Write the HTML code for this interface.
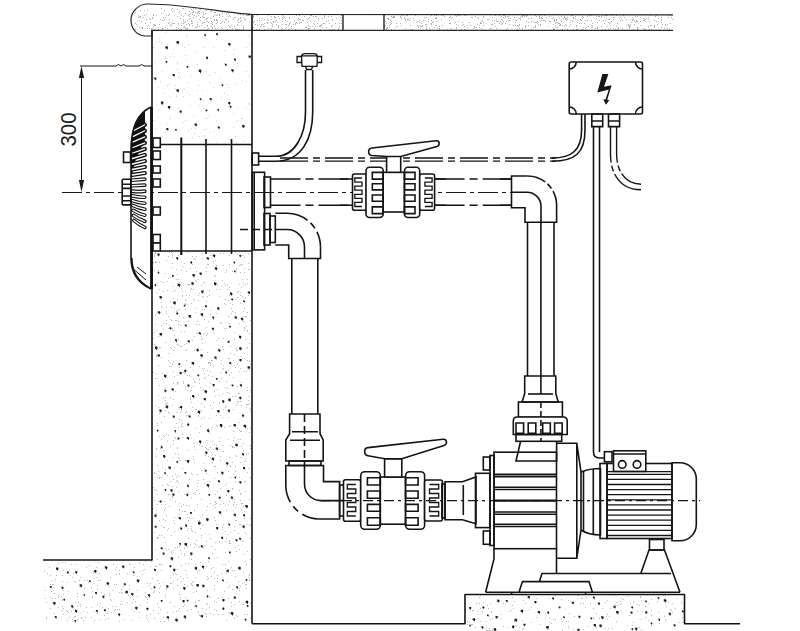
<!DOCTYPE html>
<html><head><meta charset="utf-8"><style>
html,body{margin:0;padding:0;background:#fff;width:800px;height:631px;overflow:hidden}
svg{display:block}
text{font-family:"Liberation Sans",sans-serif}
</style></head><body>
<svg width="800" height="631" viewBox="0 0 800 631">
<g fill="#acb2b8" clip-path="url(#cop)" shape-rendering="crispEdges">
<path d="M517 29h1v1h-1zM144 10h1v1h-1zM637 29h1v1h-1zM214 15h1v1h-1zM415 15h1v1h-1zM273 9h1v1h-1zM179 11h1v1h-1zM183 21h1v1h-1zM509 13h1v1h-1zM560 24h1v1h-1zM318 18h1v1h-1zM235 28h1v1h-1zM436 9h1v1h-1zM216 23h1v1h-1zM341 23h1v1h-1zM257 25h1v1h-1zM566 10h1v1h-1zM449 12h1v1h-1zM515 25h1v1h-1zM560 13h1v1h-1zM184 22h1v1h-1zM438 11h1v1h-1zM237 20h1v1h-1zM192 21h1v1h-1zM263 13h1v1h-1zM524 8h1v1h-1zM524 12h1v1h-1zM290 22h1v1h-1zM506 21h1v1h-1zM620 12h1v1h-1zM301 22h1v1h-1zM274 11h1v1h-1zM255 24h1v1h-1zM579 23h1v1h-1zM650 25h1v1h-1zM300 14h1v1h-1zM522 9h1v1h-1zM462 9h1v1h-1zM160 19h1v1h-1zM215 28h1v1h-1zM606 18h1v1h-1zM240 10h1v1h-1zM407 19h1v1h-1zM329 23h1v1h-1zM419 25h1v1h-1zM191 9h1v1h-1zM342 18h1v1h-1zM270 22h1v1h-1zM253 15h1v1h-1zM391 23h1v1h-1zM549 16h1v1h-1zM637 21h1v1h-1zM190 18h1v1h-1zM477 14h1v1h-1zM154 29h1v1h-1zM624 10h1v1h-1zM385 21h1v1h-1zM295 9h1v1h-1zM538 24h1v1h-1zM369 9h1v1h-1zM346 10h1v1h-1zM653 9h1v1h-1zM289 24h1v1h-1zM206 10h1v1h-1zM172 11h1v1h-1zM420 26h1v1h-1zM225 11h1v1h-1zM546 17h1v1h-1zM316 10h1v1h-1zM264 29h1v1h-1zM197 13h1v1h-1zM533 27h1v1h-1zM621 18h1v1h-1zM649 21h1v1h-1zM289 18h1v1h-1zM519 24h1v1h-1zM203 12h1v1h-1zM650 10h1v1h-1zM572 15h1v1h-1zM267 13h1v1h-1zM386 29h1v1h-1zM214 26h1v1h-1zM307 11h1v1h-1zM535 15h1v1h-1zM235 17h1v1h-1zM576 26h1v1h-1zM443 8h1v1h-1zM545 21h1v1h-1zM618 28h1v1h-1zM310 26h1v1h-1zM575 13h1v1h-1zM331 16h1v1h-1zM324 16h1v1h-1zM193 12h1v1h-1zM624 17h1v1h-1zM476 27h1v1h-1zM541 13h1v1h-1zM629 25h1v1h-1zM667 24h1v1h-1zM540 25h1v1h-1zM270 22h1v1h-1zM339 26h1v1h-1zM206 19h1v1h-1zM315 26h1v1h-1zM320 26h1v1h-1zM591 27h1v1h-1zM208 28h1v1h-1zM535 22h1v1h-1zM485 9h1v1h-1zM603 20h1v1h-1zM555 25h1v1h-1zM602 12h1v1h-1zM317 13h1v1h-1zM188 15h1v1h-1zM148 25h1v1h-1zM256 9h1v1h-1zM170 24h1v1h-1zM240 18h1v1h-1zM648 14h1v1h-1zM474 27h1v1h-1zM387 27h1v1h-1zM529 14h1v1h-1zM605 20h1v1h-1zM191 20h1v1h-1zM580 19h1v1h-1zM394 17h1v1h-1zM608 22h1v1h-1zM246 15h1v1h-1zM329 29h1v1h-1zM509 10h1v1h-1zM626 8h1v1h-1zM452 17h1v1h-1zM520 17h1v1h-1zM183 19h1v1h-1zM576 25h1v1h-1zM326 12h1v1h-1zM535 25h1v1h-1zM252 27h1v1h-1zM668 17h1v1h-1zM339 23h1v1h-1zM635 12h1v1h-1zM296 15h1v1h-1zM528 12h1v1h-1zM428 19h1v1h-1zM494 11h1v1h-1zM649 29h1v1h-1zM436 25h1v1h-1zM232 28h1v1h-1zM431 24h1v1h-1zM602 15h1v1h-1zM632 12h1v1h-1zM146 19h1v1h-1zM618 27h1v1h-1zM648 19h1v1h-1zM636 20h1v1h-1zM211 21h1v1h-1zM567 17h1v1h-1zM458 13h1v1h-1zM282 17h1v1h-1zM410 18h1v1h-1zM183 8h1v1h-1zM317 23h1v1h-1zM537 13h1v1h-1zM271 19h1v1h-1zM228 21h1v1h-1zM621 12h1v1h-1zM449 23h1v1h-1zM537 23h1v1h-1zM517 13h1v1h-1zM585 28h1v1h-1zM162 28h1v1h-1zM372 9h1v1h-1zM171 25h1v1h-1zM499 11h1v1h-1zM671 15h1v1h-1zM547 13h1v1h-1zM241 11h1v1h-1zM297 11h1v1h-1zM251 9h1v1h-1zM238 14h1v1h-1zM405 12h1v1h-1zM392 17h1v1h-1zM658 18h1v1h-1zM643 18h1v1h-1zM240 21h1v1h-1zM211 11h1v1h-1zM173 23h1v1h-1zM655 16h1v1h-1zM324 17h1v1h-1zM323 23h1v1h-1zM345 11h1v1h-1zM599 20h1v1h-1zM137 26h1v1h-1zM526 15h1v1h-1zM473 28h1v1h-1zM294 20h1v1h-1zM491 24h1v1h-1zM645 11h1v1h-1zM331 26h1v1h-1zM560 20h1v1h-1zM499 15h1v1h-1zM643 20h1v1h-1zM350 12h1v1h-1zM196 27h1v1h-1zM565 8h1v1h-1zM308 18h1v1h-1zM401 15h1v1h-1zM616 15h1v1h-1zM420 28h1v1h-1zM478 18h1v1h-1zM313 16h1v1h-1zM462 25h1v1h-1zM274 16h1v1h-1zM342 15h1v1h-1zM626 19h1v1h-1zM282 15h1v1h-1zM576 11h1v1h-1zM505 8h1v1h-1zM238 9h1v1h-1zM568 11h1v1h-1zM256 9h1v1h-1zM276 24h1v1h-1zM522 28h1v1h-1zM644 20h1v1h-1zM630 9h1v1h-1zM632 17h1v1h-1zM237 24h1v1h-1zM596 16h1v1h-1zM184 27h1v1h-1zM540 21h1v1h-1zM660 8h1v1h-1zM164 10h1v1h-1zM145 23h1v1h-1zM473 10h1v1h-1zM221 11h1v1h-1zM462 22h1v1h-1zM656 15h1v1h-1zM661 17h1v1h-1zM344 13h1v1h-1zM259 29h1v1h-1zM670 23h1v1h-1zM228 11h1v1h-1zM216 15h1v1h-1zM531 9h1v1h-1zM419 22h1v1h-1zM152 17h1v1h-1zM560 20h1v1h-1zM457 15h1v1h-1zM597 28h1v1h-1zM436 11h1v1h-1zM228 16h1v1h-1zM506 8h1v1h-1zM566 25h1v1h-1zM411 8h1v1h-1zM564 17h1v1h-1zM494 20h1v1h-1zM526 16h1v1h-1zM651 29h1v1h-1zM634 21h1v1h-1zM304 16h1v1h-1zM278 27h1v1h-1zM560 25h1v1h-1zM576 29h1v1h-1zM504 15h1v1h-1zM542 13h1v1h-1zM463 11h1v1h-1zM596 18h1v1h-1zM282 28h1v1h-1zM178 28h1v1h-1zM541 11h1v1h-1zM544 20h1v1h-1zM622 20h1v1h-1zM181 25h1v1h-1zM189 14h1v1h-1zM195 27h1v1h-1zM272 24h1v1h-1zM483 10h1v1h-1zM400 23h1v1h-1zM249 22h1v1h-1zM283 16h1v1h-1zM629 28h1v1h-1zM671 17h1v1h-1zM442 25h1v1h-1zM542 18h1v1h-1zM599 16h1v1h-1zM646 18h1v1h-1zM197 24h1v1h-1zM212 22h1v1h-1zM162 29h1v1h-1zM425 24h1v1h-1zM204 22h1v1h-1zM336 13h1v1h-1zM573 8h1v1h-1zM391 9h1v1h-1zM592 27h1v1h-1zM152 18h1v1h-1zM386 23h1v1h-1zM527 15h1v1h-1zM636 12h1v1h-1zM207 25h1v1h-1zM198 12h1v1h-1zM403 15h1v1h-1zM222 28h1v1h-1zM389 25h1v1h-1zM268 28h1v1h-1zM253 27h1v1h-1zM464 29h1v1h-1zM549 21h1v1h-1zM421 26h1v1h-1zM373 10h1v1h-1zM626 25h1v1h-1zM501 24h1v1h-1zM259 18h1v1h-1zM577 29h1v1h-1zM631 11h1v1h-1zM502 20h1v1h-1zM352 11h1v1h-1zM207 18h1v1h-1zM399 13h1v1h-1zM332 20h1v1h-1zM544 20h1v1h-1zM221 27h1v1h-1zM332 29h1v1h-1zM663 11h1v1h-1zM447 29h1v1h-1zM341 20h1v1h-1zM303 8h1v1h-1zM244 10h1v1h-1zM287 21h1v1h-1zM437 28h1v1h-1zM503 15h1v1h-1zM645 21h1v1h-1zM426 26h1v1h-1zM495 15h1v1h-1zM459 14h1v1h-1zM656 13h1v1h-1zM658 9h1v1h-1zM139 20h1v1h-1zM244 19h1v1h-1zM197 26h1v1h-1zM494 23h1v1h-1zM633 29h1v1h-1zM499 23h1v1h-1zM134 9h1v1h-1zM302 20h1v1h-1zM138 17h1v1h-1zM620 20h1v1h-1zM578 8h1v1h-1zM243 11h1v1h-1zM582 10h1v1h-1zM636 13h1v1h-1zM608 19h1v1h-1zM308 29h1v1h-1zM170 26h1v1h-1zM662 10h1v1h-1zM536 13h1v1h-1zM213 16h1v1h-1zM490 28h1v1h-1zM669 29h1v1h-1zM469 22h1v1h-1zM220 23h1v1h-1zM431 15h1v1h-1zM619 13h1v1h-1zM210 11h1v1h-1zM214 20h1v1h-1zM565 11h1v1h-1zM405 20h1v1h-1zM436 17h1v1h-1zM426 8h1v1h-1zM165 17h1v1h-1zM261 24h1v1h-1zM264 26h1v1h-1zM264 10h1v1h-1zM391 16h1v1h-1zM314 24h1v1h-1zM253 22h1v1h-1zM583 17h1v1h-1zM405 28h1v1h-1zM459 11h1v1h-1zM171 9h1v1h-1zM312 9h1v1h-1zM483 17h1v1h-1zM300 19h1v1h-1zM638 13h1v1h-1zM217 14h1v1h-1zM308 28h1v1h-1zM514 17h1v1h-1zM223 8h1v1h-1zM199 26h1v1h-1zM483 11h1v1h-1zM470 9h1v1h-1zM407 15h1v1h-1zM189 24h1v1h-1zM520 19h1v1h-1zM224 22h1v1h-1zM183 27h1v1h-1zM135 12h1v1h-1zM348 12h1v1h-1zM181 23h1v1h-1zM669 15h1v1h-1zM277 22h1v1h-1zM253 16h1v1h-1zM505 17h1v1h-1zM217 9h1v1h-1zM426 29h1v1h-1zM629 10h1v1h-1zM404 18h1v1h-1zM238 22h1v1h-1zM401 25h1v1h-1zM291 28h1v1h-1zM573 18h1v1h-1zM210 18h1v1h-1zM202 23h1v1h-1zM509 20h1v1h-1zM660 8h1v1h-1zM519 25h1v1h-1zM194 15h1v1h-1zM162 20h1v1h-1zM523 15h1v1h-1zM508 16h1v1h-1zM517 14h1v1h-1zM661 17h1v1h-1zM135 10h1v1h-1zM525 27h1v1h-1zM477 11h1v1h-1zM604 23h1v1h-1zM196 16h1v1h-1zM495 8h1v1h-1zM156 15h1v1h-1zM605 29h1v1h-1zM305 27h1v1h-1zM557 27h1v1h-1zM451 29h1v1h-1zM481 28h1v1h-1zM438 12h1v1h-1zM413 18h1v1h-1zM315 16h1v1h-1zM409 20h1v1h-1zM253 14h1v1h-1zM405 19h1v1h-1zM233 19h1v1h-1zM282 24h1v1h-1zM513 25h1v1h-1zM412 13h1v1h-1zM632 19h1v1h-1zM336 14h1v1h-1zM575 18h1v1h-1zM528 12h1v1h-1zM299 15h1v1h-1zM540 24h1v1h-1zM245 13h1v1h-1zM556 22h1v1h-1zM498 21h1v1h-1zM507 14h1v1h-1zM166 15h1v1h-1zM151 29h1v1h-1zM416 22h1v1h-1zM654 25h1v1h-1zM257 15h1v1h-1zM192 25h1v1h-1zM531 18h1v1h-1zM333 13h1v1h-1zM396 23h1v1h-1zM616 26h1v1h-1zM601 17h1v1h-1zM659 12h1v1h-1zM219 14h1v1h-1zM630 26h1v1h-1zM312 26h1v1h-1zM614 17h1v1h-1zM237 25h1v1h-1zM335 10h1v1h-1zM620 17h1v1h-1zM271 8h1v1h-1zM139 16h1v1h-1zM544 15h1v1h-1zM500 21h1v1h-1zM235 8h1v1h-1zM497 21h1v1h-1zM292 12h1v1h-1zM595 28h1v1h-1zM259 20h1v1h-1zM443 15h1v1h-1zM153 15h1v1h-1zM481 21h1v1h-1zM408 10h1v1h-1zM248 14h1v1h-1zM620 10h1v1h-1zM665 13h1v1h-1zM595 13h1v1h-1zM450 16h1v1h-1zM154 25h1v1h-1zM570 13h1v1h-1zM552 18h1v1h-1zM665 9h1v1h-1zM338 13h1v1h-1zM470 25h1v1h-1zM587 20h1v1h-1zM342 25h1v1h-1zM190 13h1v1h-1zM539 17h1v1h-1zM669 10h1v1h-1zM382 12h1v1h-1zM135 10h1v1h-1zM183 16h1v1h-1zM289 23h1v1h-1zM412 29h1v1h-1zM225 19h1v1h-1zM400 16h1v1h-1zM598 12h1v1h-1zM607 15h1v1h-1zM314 21h1v1h-1zM437 14h1v1h-1zM179 29h1v1h-1zM333 10h1v1h-1zM487 19h1v1h-1zM310 15h1v1h-1zM589 15h1v1h-1zM328 16h1v1h-1zM221 22h1v1h-1zM492 17h1v1h-1zM352 13h1v1h-1zM559 18h1v1h-1zM582 16h1v1h-1zM529 8h1v1h-1zM252 29h1v1h-1zM501 22h1v1h-1zM401 18h1v1h-1zM240 11h1v1h-1zM481 23h1v1h-1zM273 22h1v1h-1zM207 21h1v1h-1zM226 19h1v1h-1zM303 20h1v1h-1zM206 18h1v1h-1zM466 10h1v1h-1zM300 22h1v1h-1zM428 21h1v1h-1zM554 20h1v1h-1zM253 17h1v1h-1zM581 20h1v1h-1zM539 16h1v1h-1zM577 22h1v1h-1zM191 21h1v1h-1zM151 28h1v1h-1zM657 24h1v1h-1zM278 26h1v1h-1zM229 26h1v1h-1zM414 8h1v1h-1zM613 17h1v1h-1zM581 23h1v1h-1zM421 26h1v1h-1zM243 27h1v1h-1zM316 8h1v1h-1zM315 9h1v1h-1zM172 21h1v1h-1zM199 11h1v1h-1zM291 14h1v1h-1zM629 27h1v1h-1zM602 29h1v1h-1zM285 28h1v1h-1zM570 24h1v1h-1zM256 10h1v1h-1zM632 20h1v1h-1zM464 26h1v1h-1zM211 23h1v1h-1zM384 25h1v1h-1zM379 12h1v1h-1zM649 14h1v1h-1zM535 26h1v1h-1zM267 23h1v1h-1zM347 12h1v1h-1zM251 28h1v1h-1zM332 19h1v1h-1zM404 8h1v1h-1zM540 24h1v1h-1zM606 15h1v1h-1zM247 15h1v1h-1zM528 22h1v1h-1zM217 28h1v1h-1zM388 19h1v1h-1zM558 12h1v1h-1zM523 15h1v1h-1zM571 10h1v1h-1zM282 21h1v1h-1zM394 16h1v1h-1zM445 12h1v1h-1zM369 8h1v1h-1zM564 13h1v1h-1zM581 20h1v1h-1zM458 21h1v1h-1zM201 25h1v1h-1zM291 26h1v1h-1zM557 22h1v1h-1zM573 17h1v1h-1zM496 28h1v1h-1zM235 10h1v1h-1zM214 12h1v1h-1zM601 16h1v1h-1zM214 12h1v1h-1zM445 12h1v1h-1zM390 19h1v1h-1zM585 8h1v1h-1zM635 12h1v1h-1zM154 24h1v1h-1zM441 19h1v1h-1zM251 25h1v1h-1zM299 23h1v1h-1zM257 20h1v1h-1zM483 16h1v1h-1zM392 9h1v1h-1zM480 23h1v1h-1zM216 20h1v1h-1zM529 10h1v1h-1zM586 27h1v1h-1zM161 13h1v1h-1zM179 13h1v1h-1zM180 18h1v1h-1zM268 14h1v1h-1zM558 23h1v1h-1zM195 12h1v1h-1zM138 15h1v1h-1zM192 23h1v1h-1zM554 29h1v1h-1zM246 8h1v1h-1zM541 17h1v1h-1zM635 16h1v1h-1zM302 9h1v1h-1zM644 19h1v1h-1zM548 26h1v1h-1zM390 11h1v1h-1zM435 18h1v1h-1zM443 13h1v1h-1zM434 27h1v1h-1zM177 16h1v1h-1zM608 29h1v1h-1zM141 21h1v1h-1zM474 26h1v1h-1zM387 10h1v1h-1zM295 23h1v1h-1zM526 12h1v1h-1zM480 22h1v1h-1zM488 8h1v1h-1zM455 15h1v1h-1zM203 22h1v1h-1zM288 25h1v1h-1zM298 20h1v1h-1zM569 10h1v1h-1zM528 9h1v1h-1zM638 8h1v1h-1zM524 16h1v1h-1zM230 16h1v1h-1zM404 17h1v1h-1zM199 19h1v1h-1zM295 29h1v1h-1zM340 17h1v1h-1zM256 29h1v1h-1zM307 22h1v1h-1zM582 16h1v1h-1zM541 14h1v1h-1zM193 8h1v1h-1zM243 17h1v1h-1zM545 14h1v1h-1zM216 19h1v1h-1zM617 13h1v1h-1zM436 17h1v1h-1zM152 17h1v1h-1zM627 14h1v1h-1zM449 23h1v1h-1zM167 28h1v1h-1zM192 14h1v1h-1zM519 8h1v1h-1zM336 10h1v1h-1zM389 8h1v1h-1zM215 12h1v1h-1zM177 9h1v1h-1zM238 19h1v1h-1zM207 26h1v1h-1zM358 13h1v1h-1zM263 26h1v1h-1zM159 24h1v1h-1zM186 28h1v1h-1zM599 10h1v1h-1zM168 23h1v1h-1zM450 23h1v1h-1zM283 18h1v1h-1zM234 17h1v1h-1zM285 20h1v1h-1zM295 14h1v1h-1zM480 9h1v1h-1zM565 18h1v1h-1zM257 10h1v1h-1zM408 19h1v1h-1zM521 16h1v1h-1zM281 29h1v1h-1zM615 29h1v1h-1zM642 13h1v1h-1zM572 21h1v1h-1zM243 29h1v1h-1zM483 25h1v1h-1zM434 9h1v1h-1zM599 11h1v1h-1zM273 21h1v1h-1zM238 18h1v1h-1zM518 10h1v1h-1zM490 10h1v1h-1zM390 22h1v1h-1zM504 8h1v1h-1zM237 29h1v1h-1zM335 23h1v1h-1zM533 22h1v1h-1zM411 12h1v1h-1zM645 29h1v1h-1zM553 29h1v1h-1zM384 26h1v1h-1zM263 24h1v1h-1zM519 28h1v1h-1zM583 27h1v1h-1zM278 25h1v1h-1zM390 14h1v1h-1zM332 25h1v1h-1zM588 26h1v1h-1zM494 11h1v1h-1zM217 20h1v1h-1zM248 15h1v1h-1zM189 11h1v1h-1zM520 12h1v1h-1zM591 15h1v1h-1zM591 14h1v1h-1zM278 16h1v1h-1zM140 17h1v1h-1zM338 8h1v1h-1zM598 16h1v1h-1zM134 29h1v1h-1zM257 13h1v1h-1zM147 10h1v1h-1zM516 20h1v1h-1zM405 13h1v1h-1zM288 29h1v1h-1zM334 29h1v1h-1zM611 10h1v1h-1zM591 8h1v1h-1zM517 25h1v1h-1zM508 20h1v1h-1zM572 11h1v1h-1zM424 13h1v1h-1zM349 12h1v1h-1zM515 20h1v1h-1zM554 21h1v1h-1zM456 28h1v1h-1zM571 20h1v1h-1zM309 28h1v1h-1zM334 10h1v1h-1zM313 23h1v1h-1zM635 22h1v1h-1zM491 28h1v1h-1zM553 17h1v1h-1zM305 10h1v1h-1zM467 25h1v1h-1zM267 23h1v1h-1zM615 10h1v1h-1zM207 18h1v1h-1zM314 28h1v1h-1zM671 17h1v1h-1zM561 21h1v1h-1zM227 29h1v1h-1zM228 9h1v1h-1zM377 8h1v1h-1zM393 17h1v1h-1zM648 17h1v1h-1zM592 25h1v1h-1zM450 13h1v1h-1zM298 18h1v1h-1zM406 15h1v1h-1zM461 29h1v1h-1zM243 15h1v1h-1zM140 10h1v1h-1zM163 17h1v1h-1zM584 23h1v1h-1zM654 26h1v1h-1zM449 20h1v1h-1zM140 16h1v1h-1zM275 21h1v1h-1zM169 19h1v1h-1zM336 18h1v1h-1zM351 10h1v1h-1zM528 25h1v1h-1zM456 10h1v1h-1zM456 27h1v1h-1zM665 24h1v1h-1zM158 27h1v1h-1zM492 14h1v1h-1zM629 26h1v1h-1zM616 13h1v1h-1zM444 16h1v1h-1zM293 24h1v1h-1zM466 15h1v1h-1zM426 28h1v1h-1zM439 28h1v1h-1zM439 29h1v1h-1zM149 18h1v1h-1zM431 23h1v1h-1zM656 21h1v1h-1zM391 21h1v1h-1zM421 23h1v1h-1zM644 8h1v1h-1zM306 27h1v1h-1zM166 25h1v1h-1zM150 22h1v1h-1zM565 13h1v1h-1zM339 12h1v1h-1zM513 19h1v1h-1zM460 15h1v1h-1zM450 28h1v1h-1zM553 28h1v1h-1zM267 19h1v1h-1zM341 15h1v1h-1zM567 11h1v1h-1zM435 25h1v1h-1zM638 8h1v1h-1zM279 18h1v1h-1zM638 11h1v1h-1zM587 16h1v1h-1zM429 28h1v1h-1zM168 15h1v1h-1zM217 10h1v1h-1zM297 23h1v1h-1zM446 10h1v1h-1zM565 19h1v1h-1zM211 26h1v1h-1zM576 12h1v1h-1zM640 25h1v1h-1zM257 8h1v1h-1zM601 26h1v1h-1zM186 24h1v1h-1zM550 21h1v1h-1zM582 29h1v1h-1zM310 26h1v1h-1zM630 14h1v1h-1zM502 23h1v1h-1zM591 20h1v1h-1zM282 13h1v1h-1zM426 10h1v1h-1zM597 27h1v1h-1zM264 23h1v1h-1zM496 10h1v1h-1zM553 24h1v1h-1zM299 10h1v1h-1zM285 24h1v1h-1zM385 25h1v1h-1zM220 10h1v1h-1zM322 27h1v1h-1zM221 9h1v1h-1zM539 10h1v1h-1zM493 9h1v1h-1zM267 22h1v1h-1zM604 17h1v1h-1zM376 8h1v1h-1zM317 13h1v1h-1zM559 23h1v1h-1zM556 19h1v1h-1zM510 10h1v1h-1zM341 14h1v1h-1zM286 24h1v1h-1zM249 15h1v1h-1zM286 27h1v1h-1zM478 18h1v1h-1zM338 28h1v1h-1zM640 17h1v1h-1zM439 26h1v1h-1zM272 13h1v1h-1zM189 19h1v1h-1zM548 11h1v1h-1zM393 16h1v1h-1zM586 27h1v1h-1zM336 10h1v1h-1zM477 24h1v1h-1zM631 22h1v1h-1zM299 19h1v1h-1zM289 17h1v1h-1zM386 28h1v1h-1zM622 28h1v1h-1zM391 29h1v1h-1zM208 28h1v1h-1zM479 27h1v1h-1zM147 26h1v1h-1zM575 16h1v1h-1zM580 12h1v1h-1zM539 18h1v1h-1zM355 12h1v1h-1zM565 24h1v1h-1zM181 29h1v1h-1zM253 16h1v1h-1zM613 28h1v1h-1zM475 16h1v1h-1zM191 9h1v1h-1zM413 20h1v1h-1zM359 11h1v1h-1zM640 21h1v1h-1zM426 17h1v1h-1zM268 14h1v1h-1zM400 17h1v1h-1zM661 20h1v1h-1zM245 9h1v1h-1zM219 15h1v1h-1zM555 27h1v1h-1zM261 25h1v1h-1zM421 8h1v1h-1zM169 22h1v1h-1zM505 16h1v1h-1zM629 26h1v1h-1zM296 9h1v1h-1zM432 22h1v1h-1zM254 8h1v1h-1zM396 8h1v1h-1zM531 21h1v1h-1zM284 17h1v1h-1zM259 12h1v1h-1zM231 25h1v1h-1zM321 25h1v1h-1zM455 22h1v1h-1zM236 29h1v1h-1zM496 19h1v1h-1zM478 10h1v1h-1zM314 13h1v1h-1zM588 8h1v1h-1zM555 23h1v1h-1zM296 13h1v1h-1zM513 14h1v1h-1zM523 15h1v1h-1zM543 20h1v1h-1zM573 29h1v1h-1zM338 29h1v1h-1zM139 27h1v1h-1zM150 19h1v1h-1zM303 12h1v1h-1zM556 20h1v1h-1zM541 18h1v1h-1zM153 24h1v1h-1zM251 18h1v1h-1zM134 13h1v1h-1zM492 24h1v1h-1zM477 17h1v1h-1zM528 22h1v1h-1zM245 19h1v1h-1zM456 24h1v1h-1zM240 14h1v1h-1zM318 10h1v1h-1zM321 24h1v1h-1zM445 11h1v1h-1zM528 10h1v1h-1zM538 11h1v1h-1zM185 13h1v1h-1zM411 13h1v1h-1zM610 28h1v1h-1zM286 24h1v1h-1zM508 20h1v1h-1zM271 28h1v1h-1zM649 8h1v1h-1zM311 15h1v1h-1zM240 17h1v1h-1zM618 8h1v1h-1zM584 14h1v1h-1zM141 27h1v1h-1zM280 12h1v1h-1zM196 16h1v1h-1zM198 11h1v1h-1zM268 20h1v1h-1zM417 25h1v1h-1zM524 15h1v1h-1zM628 25h1v1h-1zM436 18h1v1h-1zM311 10h1v1h-1zM611 21h1v1h-1zM187 28h1v1h-1zM612 8h1v1h-1zM511 13h1v1h-1zM422 26h1v1h-1zM322 18h1v1h-1zM492 12h1v1h-1zM471 17h1v1h-1zM663 12h1v1h-1zM517 8h1v1h-1zM281 10h1v1h-1zM214 19h1v1h-1zM228 25h1v1h-1zM185 21h1v1h-1zM598 10h1v1h-1zM251 24h1v1h-1zM387 28h1v1h-1zM316 16h1v1h-1zM650 15h1v1h-1zM654 27h1v1h-1zM241 20h1v1h-1zM641 10h1v1h-1zM591 25h1v1h-1zM537 21h1v1h-1zM187 29h1v1h-1zM189 25h1v1h-1zM523 14h1v1h-1zM503 17h1v1h-1zM538 8h1v1h-1zM637 16h1v1h-1zM566 18h1v1h-1zM571 14h1v1h-1zM427 8h1v1h-1zM397 9h1v1h-1zM597 22h1v1h-1zM644 29h1v1h-1zM178 23h1v1h-1zM526 21h1v1h-1zM142 28h1v1h-1zM573 14h1v1h-1zM149 28h1v1h-1zM279 8h1v1h-1zM207 29h1v1h-1zM532 12h1v1h-1zM212 27h1v1h-1zM492 20h1v1h-1zM204 17h1v1h-1zM644 8h1v1h-1zM359 9h1v1h-1zM671 10h1v1h-1zM648 26h1v1h-1zM528 8h1v1h-1zM508 18h1v1h-1zM398 11h1v1h-1zM410 25h1v1h-1zM204 27h1v1h-1zM360 13h1v1h-1zM262 18h1v1h-1zM482 20h1v1h-1zM613 19h1v1h-1zM410 29h1v1h-1zM249 8h1v1h-1zM311 14h1v1h-1zM200 17h1v1h-1zM152 28h1v1h-1zM395 27h1v1h-1zM509 24h1v1h-1zM542 14h1v1h-1zM526 12h1v1h-1zM433 21h1v1h-1zM552 11h1v1h-1zM319 26h1v1h-1zM567 29h1v1h-1zM197 12h1v1h-1zM191 23h1v1h-1zM535 22h1v1h-1zM554 19h1v1h-1zM437 28h1v1h-1zM483 22h1v1h-1zM451 18h1v1h-1zM541 20h1v1h-1zM203 17h1v1h-1zM436 15h1v1h-1zM334 29h1v1h-1zM182 8h1v1h-1zM522 16h1v1h-1zM331 13h1v1h-1zM142 27h1v1h-1zM640 14h1v1h-1zM384 15h1v1h-1zM165 27h1v1h-1zM584 13h1v1h-1zM271 23h1v1h-1zM563 18h1v1h-1zM342 13h1v1h-1zM564 26h1v1h-1zM596 10h1v1h-1zM454 29h1v1h-1zM519 18h1v1h-1zM212 9h1v1h-1zM528 9h1v1h-1zM570 22h1v1h-1zM389 27h1v1h-1zM636 21h1v1h-1zM187 20h1v1h-1zM360 13h1v1h-1zM634 24h1v1h-1zM199 13h1v1h-1zM318 20h1v1h-1zM309 17h1v1h-1zM572 11h1v1h-1zM522 15h1v1h-1zM643 28h1v1h-1zM310 21h1v1h-1zM193 17h1v1h-1zM469 22h1v1h-1zM318 8h1v1h-1zM200 20h1v1h-1zM226 14h1v1h-1zM467 27h1v1h-1zM411 13h1v1h-1zM449 14h1v1h-1zM555 11h1v1h-1zM275 17h1v1h-1zM623 11h1v1h-1zM237 10h1v1h-1zM249 15h1v1h-1zM620 17h1v1h-1zM630 13h1v1h-1zM661 19h1v1h-1zM501 16h1v1h-1zM280 10h1v1h-1zM611 15h1v1h-1zM510 18h1v1h-1zM417 12h1v1h-1zM229 15h1v1h-1zM501 19h1v1h-1zM135 23h1v1h-1zM367 9h1v1h-1zM274 12h1v1h-1zM577 20h1v1h-1zM310 13h1v1h-1zM290 14h1v1h-1zM320 25h1v1h-1zM559 23h1v1h-1zM610 22h1v1h-1zM195 8h1v1h-1zM222 13h1v1h-1zM418 26h1v1h-1zM449 17h1v1h-1zM264 29h1v1h-1zM540 15h1v1h-1zM158 29h1v1h-1zM272 26h1v1h-1zM197 22h1v1h-1zM326 27h1v1h-1zM294 10h1v1h-1zM241 25h1v1h-1zM661 22h1v1h-1zM501 14h1v1h-1zM280 9h1v1h-1zM664 8h1v1h-1zM464 15h1v1h-1zM234 17h1v1h-1zM635 13h1v1h-1zM222 21h1v1h-1zM488 19h1v1h-1zM230 27h1v1h-1zM193 11h1v1h-1zM264 19h1v1h-1zM390 20h1v1h-1zM525 27h1v1h-1zM386 8h1v1h-1zM581 8h1v1h-1zM305 11h1v1h-1zM458 25h1v1h-1zM203 14h1v1h-1zM592 23h1v1h-1zM192 23h1v1h-1zM561 16h1v1h-1zM217 22h1v1h-1zM306 10h1v1h-1zM222 16h1v1h-1zM202 16h1v1h-1zM431 20h1v1h-1zM181 15h1v1h-1zM637 27h1v1h-1zM630 24h1v1h-1zM422 25h1v1h-1zM442 10h1v1h-1zM271 10h1v1h-1zM605 15h1v1h-1zM188 23h1v1h-1zM562 25h1v1h-1zM608 14h1v1h-1zM212 24h1v1h-1zM507 16h1v1h-1zM319 11h1v1h-1zM582 18h1v1h-1zM571 15h1v1h-1zM307 19h1v1h-1zM535 27h1v1h-1zM324 23h1v1h-1zM543 20h1v1h-1zM329 14h1v1h-1zM610 25h1v1h-1zM298 9h1v1h-1zM239 29h1v1h-1zM155 25h1v1h-1zM419 20h1v1h-1zM424 17h1v1h-1zM434 9h1v1h-1zM629 10h1v1h-1zM208 22h1v1h-1zM479 25h1v1h-1zM507 28h1v1h-1zM161 8h1v1h-1zM261 25h1v1h-1zM216 19h1v1h-1zM549 11h1v1h-1zM418 27h1v1h-1zM536 16h1v1h-1zM392 14h1v1h-1zM651 25h1v1h-1zM500 14h1v1h-1zM528 18h1v1h-1zM564 16h1v1h-1zM609 23h1v1h-1zM567 19h1v1h-1zM651 8h1v1h-1zM617 23h1v1h-1zM397 26h1v1h-1zM214 15h1v1h-1zM518 26h1v1h-1zM334 29h1v1h-1zM483 8h1v1h-1zM200 9h1v1h-1zM441 15h1v1h-1zM274 17h1v1h-1zM176 27h1v1h-1zM585 20h1v1h-1zM458 15h1v1h-1zM659 29h1v1h-1zM525 26h1v1h-1zM174 10h1v1h-1zM320 10h1v1h-1zM583 29h1v1h-1zM253 12h1v1h-1zM146 14h1v1h-1zM164 19h1v1h-1zM296 22h1v1h-1zM436 21h1v1h-1zM295 24h1v1h-1zM505 23h1v1h-1zM387 18h1v1h-1zM288 8h1v1h-1zM385 21h1v1h-1zM234 26h1v1h-1zM607 26h1v1h-1zM573 18h1v1h-1zM228 13h1v1h-1zM531 29h1v1h-1zM193 8h1v1h-1zM324 15h1v1h-1zM456 10h1v1h-1zM588 15h1v1h-1zM623 15h1v1h-1zM298 11h1v1h-1zM654 20h1v1h-1zM579 9h1v1h-1zM426 24h1v1h-1zM664 28h1v1h-1zM189 16h1v1h-1zM672 19h1v1h-1zM649 13h1v1h-1zM147 28h1v1h-1zM276 20h1v1h-1zM328 20h1v1h-1zM637 28h1v1h-1zM606 13h1v1h-1zM576 8h1v1h-1zM271 16h1v1h-1zM447 13h1v1h-1zM515 22h1v1h-1zM185 28h1v1h-1zM172 23h1v1h-1zM321 11h1v1h-1zM176 29h1v1h-1zM565 18h1v1h-1zM562 29h1v1h-1zM633 19h1v1h-1zM282 19h1v1h-1zM662 24h1v1h-1zM495 26h1v1h-1zM591 12h1v1h-1zM596 8h1v1h-1zM423 20h1v1h-1zM212 28h1v1h-1zM370 12h1v1h-1zM365 8h1v1h-1zM183 23h1v1h-1zM205 13h1v1h-1zM569 26h1v1h-1zM609 11h1v1h-1zM136 24h1v1h-1zM456 16h1v1h-1zM143 17h1v1h-1zM261 20h1v1h-1zM662 12h1v1h-1zM174 23h1v1h-1zM192 12h1v1h-1zM308 14h1v1h-1zM390 11h1v1h-1zM308 25h1v1h-1zM233 10h1v1h-1zM472 17h1v1h-1zM628 10h1v1h-1zM536 22h1v1h-1zM333 10h1v1h-1zM463 24h1v1h-1zM388 18h1v1h-1zM503 21h1v1h-1zM362 12h1v1h-1zM617 29h1v1h-1zM434 15h1v1h-1zM254 21h1v1h-1zM532 13h1v1h-1zM506 29h1v1h-1zM601 12h1v1h-1zM320 29h1v1h-1zM169 14h1v1h-1zM390 24h1v1h-1zM473 28h1v1h-1zM494 8h1v1h-1zM172 8h1v1h-1zM366 8h1v1h-1zM417 21h1v1h-1zM243 26h1v1h-1zM326 21h1v1h-1zM426 13h1v1h-1zM554 8h1v1h-1zM268 15h1v1h-1zM609 19h1v1h-1zM153 14h1v1h-1zM462 25h1v1h-1zM192 25h1v1h-1zM667 28h1v1h-1zM628 24h1v1h-1zM511 11h1v1h-1zM153 26h1v1h-1zM496 21h1v1h-1zM302 13h1v1h-1zM630 19h1v1h-1zM144 15h1v1h-1zM322 9h1v1h-1zM661 27h1v1h-1zM573 8h1v1h-1zM359 10h1v1h-1zM525 25h1v1h-1zM559 25h1v1h-1zM199 8h1v1h-1zM184 26h1v1h-1zM580 19h1v1h-1zM260 26h1v1h-1zM198 15h1v1h-1zM135 29h1v1h-1zM566 20h1v1h-1zM665 25h1v1h-1zM633 29h1v1h-1zM178 24h1v1h-1z"/>
</g>
<g fill="#cfd3d7" shape-rendering="crispEdges"><path d="M184 47h1v1h-1zM216 39h1v1h-1zM205 71h1v1h-1zM158 87h1v1h-1zM156 79h1v1h-1zM159 41h1v1h-1zM194 123h1v1h-1zM165 56h1v1h-1zM214 137h1v1h-1zM209 75h1v1h-1zM248 36h1v1h-1zM237 63h1v1h-1zM167 44h1v1h-1zM183 122h1v1h-1zM170 96h1v1h-1zM215 72h1v1h-1zM206 38h1v1h-1zM158 54h1v1h-1zM219 78h1v1h-1zM183 96h1v1h-1zM197 64h1v1h-1zM230 109h1v1h-1zM176 95h1v1h-1zM204 129h1v1h-1zM224 63h1v1h-1zM249 44h1v1h-1zM193 115h1v1h-1zM167 85h1v1h-1zM156 105h1v1h-1zM227 95h1v1h-1zM238 66h1v1h-1zM221 97h1v1h-1zM209 82h1v1h-1zM235 136h1v1h-1zM199 105h1v1h-1zM158 109h1v1h-1zM216 142h1v1h-1zM233 62h1v1h-1zM190 105h1v1h-1zM155 82h1v1h-1zM169 44h1v1h-1zM158 117h1v1h-1zM165 58h1v1h-1zM191 128h1v1h-1zM160 81h1v1h-1zM206 129h1v1h-1zM233 127h1v1h-1zM180 77h1v1h-1zM188 130h1v1h-1zM246 47h1v1h-1zM170 56h1v1h-1zM175 85h1v1h-1zM210 60h1v1h-1zM153 77h1v1h-1zM189 94h1v1h-1zM246 108h1v1h-1zM203 100h1v1h-1zM219 37h1v1h-1zM241 118h1v1h-1zM238 120h1v1h-1zM191 75h1v1h-1zM163 102h1v1h-1zM159 38h1v1h-1zM173 49h1v1h-1zM186 36h1v1h-1zM153 47h1v1h-1zM162 71h1v1h-1zM155 128h1v1h-1zM213 47h1v1h-1zM177 69h1v1h-1zM188 44h1v1h-1zM236 142h1v1h-1zM198 85h1v1h-1zM161 42h1v1h-1zM186 60h1v1h-1zM234 49h1v1h-1zM155 137h1v1h-1zM204 47h1v1h-1zM206 34h1v1h-1zM204 140h1v1h-1zM237 108h1v1h-1zM178 72h1v1h-1zM169 117h1v1h-1zM205 118h1v1h-1zM185 55h1v1h-1zM232 141h1v1h-1zM236 121h1v1h-1zM233 113h1v1h-1zM175 88h1v1h-1zM187 34h1v1h-1zM155 62h1v1h-1zM178 108h1v1h-1zM246 81h1v1h-1zM244 141h1v1h-1zM246 71h1v1h-1zM174 56h1v1h-1zM172 53h1v1h-1zM214 131h1v1h-1zM235 84h1v1h-1zM216 120h1v1h-1zM161 104h1v1h-1zM242 118h1v1h-1zM226 84h1v1h-1zM170 119h1v1h-1zM185 120h1v1h-1zM248 75h1v1h-1zM192 137h1v1h-1zM224 50h1v1h-1zM165 47h1v1h-1zM241 121h1v1h-1zM167 123h1v1h-1zM249 104h1v1h-1zM187 92h1v1h-1zM165 32h1v1h-1zM248 103h1v1h-1zM204 135h1v1h-1zM195 128h1v1h-1zM233 54h1v1h-1zM177 63h1v1h-1zM176 96h1v1h-1zM178 77h1v1h-1zM165 132h1v1h-1zM187 82h1v1h-1zM210 132h1v1h-1zM194 133h1v1h-1zM202 90h1v1h-1zM204 33h1v1h-1zM196 51h1v1h-1zM153 120h1v1h-1zM169 84h1v1h-1zM224 93h1v1h-1zM184 89h1v1h-1zM207 118h1v1h-1zM163 93h1v1h-1zM177 62h1v1h-1zM228 87h1v1h-1zM208 116h1v1h-1zM242 80h1v1h-1zM213 87h1v1h-1zM203 108h1v1h-1zM197 90h1v1h-1zM199 136h1v1h-1z"/></g><g fill="#b4babf" shape-rendering="crispEdges"><path d="M165 273h1v1h-1zM225 330h1v1h-1zM168 278h1v1h-1zM235 520h1v1h-1zM218 338h1v1h-1zM176 342h1v1h-1zM198 300h1v1h-1zM196 333h1v1h-1zM247 551h1v1h-1zM206 327h1v1h-1zM247 347h1v1h-1zM187 252h1v1h-1zM190 398h1v1h-1zM202 313h1v1h-1zM202 253h1v1h-1zM178 279h1v1h-1zM192 264h1v1h-1zM155 345h1v1h-1zM175 432h1v1h-1zM204 483h1v1h-1zM217 472h1v1h-1zM239 371h1v1h-1zM184 555h1v1h-1zM167 475h1v1h-1zM216 265h1v1h-1zM234 526h1v1h-1zM214 478h1v1h-1zM232 294h1v1h-1zM204 407h1v1h-1zM234 499h1v1h-1zM233 431h1v1h-1zM240 462h1v1h-1zM220 322h1v1h-1zM156 292h1v1h-1zM188 284h1v1h-1zM234 424h1v1h-1zM214 444h1v1h-1zM219 402h1v1h-1zM153 497h1v1h-1zM226 406h1v1h-1zM205 455h1v1h-1zM159 478h1v1h-1zM177 274h1v1h-1zM179 476h1v1h-1zM173 479h1v1h-1zM248 404h1v1h-1zM190 399h1v1h-1zM220 488h1v1h-1zM213 449h1v1h-1zM160 297h1v1h-1zM177 480h1v1h-1zM182 426h1v1h-1zM154 270h1v1h-1zM179 458h1v1h-1zM220 460h1v1h-1zM181 411h1v1h-1zM198 395h1v1h-1zM164 527h1v1h-1zM172 553h1v1h-1zM244 257h1v1h-1zM197 504h1v1h-1zM247 390h1v1h-1zM179 316h1v1h-1zM245 316h1v1h-1zM209 295h1v1h-1zM204 545h1v1h-1zM165 504h1v1h-1zM202 525h1v1h-1zM221 323h1v1h-1zM240 401h1v1h-1zM155 253h1v1h-1zM201 390h1v1h-1zM182 295h1v1h-1zM186 349h1v1h-1zM235 252h1v1h-1zM226 510h1v1h-1zM164 537h1v1h-1zM222 529h1v1h-1zM181 366h1v1h-1zM191 559h1v1h-1zM210 363h1v1h-1zM194 336h1v1h-1zM157 283h1v1h-1zM234 339h1v1h-1zM244 328h1v1h-1zM179 409h1v1h-1zM171 366h1v1h-1zM246 524h1v1h-1zM232 446h1v1h-1zM242 541h1v1h-1zM206 473h1v1h-1zM157 477h1v1h-1zM197 483h1v1h-1zM216 340h1v1h-1zM157 537h1v1h-1zM165 397h1v1h-1zM186 343h1v1h-1zM225 552h1v1h-1zM178 454h1v1h-1zM182 423h1v1h-1zM191 303h1v1h-1zM168 316h1v1h-1zM241 405h1v1h-1zM174 531h1v1h-1zM250 390h1v1h-1zM166 311h1v1h-1zM161 357h1v1h-1zM161 325h1v1h-1zM178 427h1v1h-1zM239 482h1v1h-1zM193 379h1v1h-1zM204 368h1v1h-1zM186 271h1v1h-1zM180 550h1v1h-1zM165 407h1v1h-1zM214 517h1v1h-1zM174 335h1v1h-1zM177 375h1v1h-1zM196 545h1v1h-1zM236 520h1v1h-1zM155 261h1v1h-1zM222 527h1v1h-1zM199 432h1v1h-1zM153 372h1v1h-1zM243 506h1v1h-1zM236 551h1v1h-1zM177 285h1v1h-1zM168 412h1v1h-1zM219 541h1v1h-1zM223 451h1v1h-1zM227 392h1v1h-1zM207 264h1v1h-1zM229 323h1v1h-1zM243 450h1v1h-1zM182 291h1v1h-1zM177 447h1v1h-1zM221 286h1v1h-1zM159 413h1v1h-1zM210 371h1v1h-1zM174 437h1v1h-1zM154 344h1v1h-1zM198 547h1v1h-1zM216 524h1v1h-1zM199 324h1v1h-1zM177 547h1v1h-1zM222 346h1v1h-1zM155 405h1v1h-1zM219 381h1v1h-1zM178 457h1v1h-1zM243 321h1v1h-1zM156 356h1v1h-1zM194 462h1v1h-1zM172 497h1v1h-1zM225 407h1v1h-1zM173 550h1v1h-1zM183 504h1v1h-1zM175 320h1v1h-1zM227 342h1v1h-1zM246 404h1v1h-1zM171 320h1v1h-1zM193 456h1v1h-1zM245 297h1v1h-1zM191 317h1v1h-1zM248 295h1v1h-1zM158 270h1v1h-1zM191 528h1v1h-1zM239 477h1v1h-1zM250 538h1v1h-1zM185 309h1v1h-1zM244 481h1v1h-1zM156 456h1v1h-1zM190 367h1v1h-1zM185 304h1v1h-1zM153 338h1v1h-1zM187 546h1v1h-1zM165 548h1v1h-1zM173 361h1v1h-1zM233 505h1v1h-1zM195 267h1v1h-1zM199 366h1v1h-1zM243 311h1v1h-1zM188 528h1v1h-1zM155 378h1v1h-1zM232 488h1v1h-1zM156 262h1v1h-1zM159 535h1v1h-1zM178 482h1v1h-1zM241 356h1v1h-1zM179 546h1v1h-1zM213 332h1v1h-1zM223 349h1v1h-1zM180 253h1v1h-1zM227 534h1v1h-1zM215 542h1v1h-1zM155 324h1v1h-1zM199 546h1v1h-1zM246 371h1v1h-1zM177 384h1v1h-1zM201 537h1v1h-1zM170 499h1v1h-1zM225 505h1v1h-1zM228 439h1v1h-1zM185 350h1v1h-1zM188 492h1v1h-1zM160 312h1v1h-1zM226 328h1v1h-1zM159 262h1v1h-1zM207 352h1v1h-1zM249 524h1v1h-1zM249 333h1v1h-1zM161 281h1v1h-1zM201 470h1v1h-1zM196 324h1v1h-1zM193 443h1v1h-1zM219 482h1v1h-1zM236 456h1v1h-1zM164 510h1v1h-1zM181 426h1v1h-1zM189 479h1v1h-1zM172 328h1v1h-1zM177 299h1v1h-1zM239 430h1v1h-1zM184 373h1v1h-1zM250 408h1v1h-1zM175 501h1v1h-1zM217 557h1v1h-1zM163 398h1v1h-1zM233 510h1v1h-1zM242 264h1v1h-1zM181 288h1v1h-1zM171 551h1v1h-1zM210 538h1v1h-1zM189 518h1v1h-1zM197 332h1v1h-1zM229 543h1v1h-1zM163 435h1v1h-1zM213 319h1v1h-1zM189 295h1v1h-1zM172 330h1v1h-1zM211 452h1v1h-1zM172 255h1v1h-1zM185 460h1v1h-1zM171 348h1v1h-1zM172 496h1v1h-1zM206 271h1v1h-1zM162 373h1v1h-1zM206 448h1v1h-1zM161 302h1v1h-1zM221 378h1v1h-1zM180 346h1v1h-1zM246 348h1v1h-1zM208 362h1v1h-1zM193 518h1v1h-1zM250 364h1v1h-1zM172 476h1v1h-1zM172 253h1v1h-1zM241 382h1v1h-1zM233 377h1v1h-1zM239 393h1v1h-1zM168 256h1v1h-1zM207 449h1v1h-1zM242 279h1v1h-1zM213 366h1v1h-1zM202 296h1v1h-1zM180 412h1v1h-1zM243 285h1v1h-1zM201 499h1v1h-1zM247 312h1v1h-1zM165 542h1v1h-1zM248 400h1v1h-1zM158 537h1v1h-1zM191 530h1v1h-1zM213 505h1v1h-1zM168 494h1v1h-1zM174 376h1v1h-1zM235 507h1v1h-1zM170 319h1v1h-1zM192 411h1v1h-1zM190 289h1v1h-1zM177 475h1v1h-1zM240 264h1v1h-1zM208 485h1v1h-1zM156 510h1v1h-1zM164 436h1v1h-1zM206 445h1v1h-1zM183 381h1v1h-1zM210 383h1v1h-1zM217 389h1v1h-1zM195 259h1v1h-1zM213 402h1v1h-1zM176 487h1v1h-1zM229 393h1v1h-1zM170 397h1v1h-1zM163 291h1v1h-1zM195 280h1v1h-1zM196 409h1v1h-1zM156 448h1v1h-1zM161 477h1v1h-1zM229 409h1v1h-1zM158 407h1v1h-1zM190 544h1v1h-1zM166 515h1v1h-1zM250 477h1v1h-1zM232 311h1v1h-1zM249 403h1v1h-1zM246 534h1v1h-1zM169 494h1v1h-1zM244 272h1v1h-1zM187 484h1v1h-1zM168 528h1v1h-1zM179 503h1v1h-1zM167 406h1v1h-1zM243 316h1v1h-1zM178 407h1v1h-1zM184 263h1v1h-1zM170 301h1v1h-1zM244 461h1v1h-1zM240 303h1v1h-1zM229 287h1v1h-1zM205 447h1v1h-1zM188 520h1v1h-1zM207 430h1v1h-1zM239 284h1v1h-1zM250 445h1v1h-1zM191 497h1v1h-1zM178 557h1v1h-1zM209 362h1v1h-1zM227 388h1v1h-1zM170 481h1v1h-1zM157 504h1v1h-1zM177 448h1v1h-1zM249 432h1v1h-1zM218 348h1v1h-1zM153 262h1v1h-1zM167 441h1v1h-1zM195 409h1v1h-1zM240 292h1v1h-1zM175 453h1v1h-1zM155 252h1v1h-1zM187 284h1v1h-1zM188 321h1v1h-1zM210 433h1v1h-1zM173 444h1v1h-1zM199 293h1v1h-1zM244 327h1v1h-1zM167 281h1v1h-1zM215 520h1v1h-1zM229 375h1v1h-1zM178 255h1v1h-1zM216 425h1v1h-1zM187 450h1v1h-1zM196 540h1v1h-1zM224 328h1v1h-1zM241 265h1v1h-1zM205 377h1v1h-1zM176 269h1v1h-1zM229 255h1v1h-1zM206 541h1v1h-1zM166 313h1v1h-1zM212 408h1v1h-1zM215 502h1v1h-1zM170 347h1v1h-1zM182 266h1v1h-1zM240 493h1v1h-1zM223 253h1v1h-1zM235 481h1v1h-1zM198 480h1v1h-1zM197 321h1v1h-1zM163 323h1v1h-1zM156 355h1v1h-1zM226 466h1v1h-1zM235 471h1v1h-1zM179 422h1v1h-1zM195 494h1v1h-1zM204 333h1v1h-1zM215 549h1v1h-1zM174 523h1v1h-1zM154 332h1v1h-1zM176 481h1v1h-1zM245 481h1v1h-1zM185 523h1v1h-1zM185 325h1v1h-1zM241 446h1v1h-1zM220 456h1v1h-1zM248 396h1v1h-1zM235 466h1v1h-1zM237 386h1v1h-1zM224 427h1v1h-1zM183 317h1v1h-1zM214 275h1v1h-1zM242 296h1v1h-1zM155 284h1v1h-1zM244 358h1v1h-1zM166 260h1v1h-1zM157 465h1v1h-1zM215 466h1v1h-1zM225 272h1v1h-1zM210 363h1v1h-1zM233 504h1v1h-1zM240 272h1v1h-1zM238 533h1v1h-1zM245 284h1v1h-1zM173 286h1v1h-1zM156 513h1v1h-1zM232 447h1v1h-1zM233 446h1v1h-1zM181 282h1v1h-1zM162 485h1v1h-1zM173 350h1v1h-1zM194 258h1v1h-1zM178 339h1v1h-1zM223 365h1v1h-1zM184 548h1v1h-1zM202 514h1v1h-1zM213 261h1v1h-1zM193 386h1v1h-1zM228 358h1v1h-1zM222 417h1v1h-1zM174 517h1v1h-1zM161 504h1v1h-1zM169 252h1v1h-1zM172 486h1v1h-1zM248 253h1v1h-1zM201 403h1v1h-1zM231 308h1v1h-1zM201 358h1v1h-1zM234 332h1v1h-1zM245 339h1v1h-1zM174 467h1v1h-1zM201 285h1v1h-1zM215 276h1v1h-1zM230 466h1v1h-1zM230 445h1v1h-1zM187 375h1v1h-1zM191 526h1v1h-1zM161 525h1v1h-1zM155 315h1v1h-1zM178 529h1v1h-1zM202 368h1v1h-1zM239 323h1v1h-1zM198 415h1v1h-1zM226 483h1v1h-1zM216 359h1v1h-1zM185 299h1v1h-1zM235 455h1v1h-1zM225 304h1v1h-1zM196 490h1v1h-1zM209 290h1v1h-1zM198 524h1v1h-1zM176 311h1v1h-1zM182 468h1v1h-1zM235 299h1v1h-1zM168 328h1v1h-1zM185 412h1v1h-1zM168 353h1v1h-1zM171 552h1v1h-1zM224 283h1v1h-1zM247 283h1v1h-1zM190 555h1v1h-1zM230 477h1v1h-1zM195 312h1v1h-1zM215 284h1v1h-1zM173 371h1v1h-1zM156 374h1v1h-1zM230 465h1v1h-1zM202 446h1v1h-1zM198 295h1v1h-1zM212 376h1v1h-1zM225 531h1v1h-1zM195 428h1v1h-1zM226 381h1v1h-1zM175 474h1v1h-1zM239 490h1v1h-1zM221 514h1v1h-1zM219 449h1v1h-1zM197 348h1v1h-1zM214 282h1v1h-1zM194 492h1v1h-1zM222 445h1v1h-1zM177 382h1v1h-1zM197 443h1v1h-1zM193 459h1v1h-1zM244 308h1v1h-1zM217 491h1v1h-1zM191 402h1v1h-1zM248 263h1v1h-1zM206 301h1v1h-1zM229 541h1v1h-1zM203 283h1v1h-1zM209 418h1v1h-1zM223 409h1v1h-1zM215 507h1v1h-1zM204 378h1v1h-1zM245 316h1v1h-1zM220 372h1v1h-1zM227 289h1v1h-1zM249 361h1v1h-1zM158 336h1v1h-1zM192 256h1v1h-1zM194 381h1v1h-1zM221 360h1v1h-1zM178 321h1v1h-1zM225 541h1v1h-1zM204 319h1v1h-1zM231 372h1v1h-1zM173 291h1v1h-1zM229 501h1v1h-1zM215 396h1v1h-1zM208 321h1v1h-1zM247 360h1v1h-1zM215 504h1v1h-1zM232 396h1v1h-1zM181 420h1v1h-1zM165 508h1v1h-1zM187 514h1v1h-1zM179 367h1v1h-1zM177 383h1v1h-1zM171 252h1v1h-1zM223 338h1v1h-1zM177 344h1v1h-1zM199 383h1v1h-1zM215 455h1v1h-1zM188 538h1v1h-1zM236 269h1v1h-1zM234 530h1v1h-1zM229 295h1v1h-1zM234 447h1v1h-1zM154 255h1v1h-1zM246 454h1v1h-1zM177 283h1v1h-1zM166 323h1v1h-1zM229 358h1v1h-1zM167 530h1v1h-1zM230 303h1v1h-1zM240 439h1v1h-1zM229 457h1v1h-1zM240 494h1v1h-1zM235 312h1v1h-1zM220 415h1v1h-1zM225 387h1v1h-1zM239 422h1v1h-1zM178 324h1v1h-1zM166 403h1v1h-1zM158 395h1v1h-1zM167 403h1v1h-1zM201 418h1v1h-1zM237 254h1v1h-1zM235 396h1v1h-1zM208 456h1v1h-1zM235 367h1v1h-1zM194 547h1v1h-1zM160 448h1v1h-1zM215 260h1v1h-1zM212 462h1v1h-1zM244 353h1v1h-1zM249 409h1v1h-1zM200 528h1v1h-1zM156 473h1v1h-1zM214 356h1v1h-1zM237 364h1v1h-1zM199 413h1v1h-1zM228 316h1v1h-1zM195 382h1v1h-1zM207 506h1v1h-1zM181 506h1v1h-1zM192 407h1v1h-1zM179 407h1v1h-1zM248 453h1v1h-1zM230 353h1v1h-1zM184 344h1v1h-1zM210 447h1v1h-1zM229 264h1v1h-1zM223 524h1v1h-1zM206 267h1v1h-1zM182 253h1v1h-1zM171 535h1v1h-1zM212 454h1v1h-1zM230 532h1v1h-1zM212 441h1v1h-1zM214 466h1v1h-1zM211 461h1v1h-1zM173 457h1v1h-1zM197 486h1v1h-1zM162 307h1v1h-1zM156 490h1v1h-1zM242 453h1v1h-1zM189 505h1v1h-1zM230 425h1v1h-1zM178 345h1v1h-1zM194 350h1v1h-1zM195 449h1v1h-1zM244 268h1v1h-1zM208 264h1v1h-1zM164 501h1v1h-1zM209 534h1v1h-1zM196 256h1v1h-1zM190 434h1v1h-1zM244 554h1v1h-1zM199 379h1v1h-1zM163 450h1v1h-1zM173 298h1v1h-1zM154 253h1v1h-1zM220 289h1v1h-1zM247 279h1v1h-1zM238 291h1v1h-1zM154 473h1v1h-1zM176 477h1v1h-1zM171 267h1v1h-1zM228 471h1v1h-1zM236 476h1v1h-1zM161 445h1v1h-1zM222 393h1v1h-1zM244 330h1v1h-1zM247 472h1v1h-1zM154 256h1v1h-1zM216 503h1v1h-1zM160 347h1v1h-1zM224 303h1v1h-1zM237 401h1v1h-1zM158 365h1v1h-1zM209 387h1v1h-1zM219 296h1v1h-1zM231 363h1v1h-1zM216 445h1v1h-1zM193 370h1v1h-1zM230 543h1v1h-1zM229 426h1v1h-1zM181 270h1v1h-1zM248 468h1v1h-1zM234 354h1v1h-1zM212 553h1v1h-1zM234 437h1v1h-1zM183 383h1v1h-1zM240 368h1v1h-1zM220 437h1v1h-1zM240 500h1v1h-1zM180 252h1v1h-1zM178 382h1v1h-1zM210 503h1v1h-1zM239 265h1v1h-1zM234 502h1v1h-1zM237 428h1v1h-1zM179 514h1v1h-1zM232 462h1v1h-1zM242 358h1v1h-1zM161 422h1v1h-1zM231 313h1v1h-1zM226 538h1v1h-1zM175 438h1v1h-1zM219 395h1v1h-1zM173 330h1v1h-1zM226 495h1v1h-1zM198 279h1v1h-1zM232 489h1v1h-1zM175 430h1v1h-1zM240 524h1v1h-1zM204 398h1v1h-1zM210 310h1v1h-1zM171 307h1v1h-1zM221 363h1v1h-1zM208 375h1v1h-1zM203 297h1v1h-1zM157 559h1v1h-1zM189 284h1v1h-1zM215 494h1v1h-1zM168 435h1v1h-1zM186 411h1v1h-1zM155 262h1v1h-1zM250 518h1v1h-1zM200 426h1v1h-1zM178 491h1v1h-1zM194 543h1v1h-1zM228 504h1v1h-1zM247 330h1v1h-1zM156 313h1v1h-1zM170 277h1v1h-1zM157 423h1v1h-1zM238 393h1v1h-1zM245 532h1v1h-1zM159 436h1v1h-1zM191 288h1v1h-1zM247 331h1v1h-1zM208 449h1v1h-1zM246 458h1v1h-1zM191 390h1v1h-1zM168 549h1v1h-1zM250 320h1v1h-1zM156 330h1v1h-1zM187 530h1v1h-1zM241 509h1v1h-1zM157 494h1v1h-1zM222 451h1v1h-1zM249 269h1v1h-1zM167 484h1v1h-1zM245 460h1v1h-1zM182 434h1v1h-1zM227 284h1v1h-1zM184 331h1v1h-1zM165 400h1v1h-1zM169 325h1v1h-1zM167 460h1v1h-1zM154 472h1v1h-1zM172 263h1v1h-1zM243 319h1v1h-1zM244 518h1v1h-1zM240 295h1v1h-1zM196 281h1v1h-1zM244 511h1v1h-1zM214 391h1v1h-1zM186 505h1v1h-1zM199 445h1v1h-1zM166 320h1v1h-1zM158 471h1v1h-1zM207 296h1v1h-1zM238 334h1v1h-1zM193 299h1v1h-1zM179 510h1v1h-1zM185 303h1v1h-1zM201 349h1v1h-1zM241 287h1v1h-1zM248 269h1v1h-1zM240 457h1v1h-1zM173 399h1v1h-1zM181 331h1v1h-1zM172 364h1v1h-1zM250 559h1v1h-1zM243 282h1v1h-1zM181 528h1v1h-1zM158 475h1v1h-1zM181 553h1v1h-1zM154 500h1v1h-1zM186 295h1v1h-1zM153 508h1v1h-1zM204 309h1v1h-1zM195 532h1v1h-1zM174 427h1v1h-1zM166 307h1v1h-1zM228 471h1v1h-1zM172 276h1v1h-1zM161 439h1v1h-1zM201 336h1v1h-1zM173 440h1v1h-1zM222 501h1v1h-1zM210 314h1v1h-1zM159 477h1v1h-1zM192 474h1v1h-1zM158 501h1v1h-1zM185 511h1v1h-1zM237 403h1v1h-1zM154 532h1v1h-1zM199 520h1v1h-1zM179 309h1v1h-1zM234 365h1v1h-1zM169 366h1v1h-1zM211 253h1v1h-1zM203 389h1v1h-1zM203 289h1v1h-1zM223 503h1v1h-1zM237 350h1v1h-1zM222 369h1v1h-1zM226 270h1v1h-1zM238 545h1v1h-1zM201 410h1v1h-1zM204 417h1v1h-1zM155 549h1v1h-1zM174 308h1v1h-1zM163 329h1v1h-1zM233 261h1v1h-1zM162 467h1v1h-1zM172 257h1v1h-1zM211 429h1v1h-1zM204 468h1v1h-1zM163 519h1v1h-1zM223 265h1v1h-1zM165 404h1v1h-1zM202 338h1v1h-1zM164 376h1v1h-1zM166 434h1v1h-1zM237 297h1v1h-1zM209 481h1v1h-1zM169 506h1v1h-1zM244 371h1v1h-1zM194 510h1v1h-1zM204 373h1v1h-1zM245 491h1v1h-1zM186 326h1v1h-1zM185 386h1v1h-1zM249 499h1v1h-1zM242 503h1v1h-1zM236 268h1v1h-1zM203 547h1v1h-1zM244 328h1v1h-1zM194 446h1v1h-1zM188 415h1v1h-1zM159 385h1v1h-1zM202 258h1v1h-1zM166 550h1v1h-1zM229 540h1v1h-1zM215 501h1v1h-1zM239 524h1v1h-1zM156 449h1v1h-1zM179 460h1v1h-1zM179 419h1v1h-1zM243 443h1v1h-1zM177 412h1v1h-1zM195 544h1v1h-1zM181 346h1v1h-1zM216 289h1v1h-1zM211 546h1v1h-1zM203 334h1v1h-1zM198 416h1v1h-1zM167 290h1v1h-1zM165 342h1v1h-1zM192 340h1v1h-1zM176 279h1v1h-1zM206 510h1v1h-1zM212 427h1v1h-1zM216 313h1v1h-1zM222 393h1v1h-1zM206 440h1v1h-1zM198 347h1v1h-1zM176 320h1v1h-1zM203 370h1v1h-1zM210 255h1v1h-1zM187 517h1v1h-1zM176 423h1v1h-1zM201 339h1v1h-1zM249 343h1v1h-1zM228 300h1v1h-1zM159 520h1v1h-1zM196 271h1v1h-1zM191 387h1v1h-1zM225 285h1v1h-1zM175 547h1v1h-1zM225 299h1v1h-1zM186 360h1v1h-1zM219 441h1v1h-1zM236 504h1v1h-1zM203 479h1v1h-1zM225 485h1v1h-1zM199 493h1v1h-1zM222 533h1v1h-1zM165 520h1v1h-1zM153 487h1v1h-1zM210 405h1v1h-1zM247 428h1v1h-1zM193 493h1v1h-1zM238 439h1v1h-1zM190 391h1v1h-1zM197 474h1v1h-1zM181 372h1v1h-1zM207 370h1v1h-1zM184 494h1v1h-1zM236 405h1v1h-1zM196 308h1v1h-1zM182 296h1v1h-1zM209 431h1v1h-1zM161 535h1v1h-1zM184 511h1v1h-1zM235 547h1v1h-1zM173 383h1v1h-1zM242 255h1v1h-1zM157 425h1v1h-1zM201 535h1v1h-1zM228 417h1v1h-1zM250 411h1v1h-1zM203 463h1v1h-1zM191 362h1v1h-1zM211 360h1v1h-1zM245 460h1v1h-1zM204 282h1v1h-1zM189 375h1v1h-1zM208 428h1v1h-1zM239 549h1v1h-1zM200 387h1v1h-1zM214 558h1v1h-1zM186 415h1v1h-1zM232 304h1v1h-1zM184 553h1v1h-1zM233 409h1v1h-1zM163 527h1v1h-1zM220 504h1v1h-1zM250 525h1v1h-1zM194 300h1v1h-1zM181 409h1v1h-1zM202 309h1v1h-1zM170 446h1v1h-1zM212 360h1v1h-1zM250 448h1v1h-1zM157 378h1v1h-1zM230 346h1v1h-1zM220 253h1v1h-1zM182 511h1v1h-1zM210 457h1v1h-1zM172 405h1v1h-1zM207 333h1v1h-1zM216 415h1v1h-1zM250 428h1v1h-1zM193 289h1v1h-1zM168 485h1v1h-1zM163 282h1v1h-1zM169 412h1v1h-1zM233 440h1v1h-1zM232 271h1v1h-1zM154 489h1v1h-1zM184 472h1v1h-1zM187 304h1v1h-1zM179 282h1v1h-1zM241 431h1v1h-1zM187 390h1v1h-1zM190 268h1v1h-1zM240 431h1v1h-1zM247 387h1v1h-1zM213 328h1v1h-1zM157 538h1v1h-1zM236 348h1v1h-1zM241 503h1v1h-1zM182 437h1v1h-1zM247 404h1v1h-1zM246 326h1v1h-1zM191 473h1v1h-1zM174 347h1v1h-1zM238 401h1v1h-1zM230 326h1v1h-1zM169 362h1v1h-1zM171 551h1v1h-1zM181 424h1v1h-1zM164 416h1v1h-1zM190 376h1v1h-1zM159 289h1v1h-1zM233 360h1v1h-1zM177 310h1v1h-1zM180 325h1v1h-1zM156 456h1v1h-1zM186 300h1v1h-1zM222 280h1v1h-1zM179 509h1v1h-1zM165 388h1v1h-1zM234 499h1v1h-1zM168 360h1v1h-1zM223 368h1v1h-1zM246 316h1v1h-1zM246 407h1v1h-1zM175 391h1v1h-1zM165 469h1v1h-1zM178 529h1v1h-1zM210 365h1v1h-1zM177 439h1v1h-1zM173 520h1v1h-1zM165 410h1v1h-1zM206 335h1v1h-1zM228 370h1v1h-1zM217 426h1v1h-1zM183 372h1v1h-1zM161 306h1v1h-1zM236 350h1v1h-1zM217 285h1v1h-1zM208 363h1v1h-1zM202 343h1v1h-1zM159 347h1v1h-1zM175 290h1v1h-1zM223 338h1v1h-1zM192 531h1v1h-1zM228 523h1v1h-1zM237 292h1v1h-1zM176 617h1v1h-1zM87 580h1v1h-1zM199 600h1v1h-1zM127 602h1v1h-1zM113 564h1v1h-1zM129 563h1v1h-1zM173 581h1v1h-1zM146 597h1v1h-1zM97 589h1v1h-1zM46 617h1v1h-1zM160 621h1v1h-1zM55 598h1v1h-1zM193 581h1v1h-1zM63 570h1v1h-1zM73 607h1v1h-1zM62 610h1v1h-1zM131 593h1v1h-1zM165 594h1v1h-1zM180 597h1v1h-1zM112 606h1v1h-1zM97 604h1v1h-1zM202 608h1v1h-1zM108 608h1v1h-1zM246 588h1v1h-1zM101 592h1v1h-1zM238 569h1v1h-1zM45 590h1v1h-1zM179 608h1v1h-1zM119 621h1v1h-1zM91 607h1v1h-1zM62 562h1v1h-1zM71 564h1v1h-1zM147 594h1v1h-1zM81 618h1v1h-1zM119 570h1v1h-1zM80 606h1v1h-1zM234 570h1v1h-1zM50 608h1v1h-1zM94 620h1v1h-1zM147 599h1v1h-1zM115 609h1v1h-1zM139 580h1v1h-1zM231 567h1v1h-1zM195 564h1v1h-1zM177 585h1v1h-1zM222 564h1v1h-1zM160 586h1v1h-1zM234 618h1v1h-1zM173 574h1v1h-1zM96 577h1v1h-1zM133 575h1v1h-1zM86 607h1v1h-1zM177 579h1v1h-1zM249 574h1v1h-1zM161 570h1v1h-1zM222 614h1v1h-1zM99 606h1v1h-1zM214 578h1v1h-1zM112 590h1v1h-1zM228 570h1v1h-1zM185 597h1v1h-1zM137 596h1v1h-1zM226 573h1v1h-1zM226 582h1v1h-1zM205 613h1v1h-1zM81 613h1v1h-1zM249 579h1v1h-1zM49 567h1v1h-1zM245 561h1v1h-1zM232 570h1v1h-1zM196 566h1v1h-1zM78 602h1v1h-1zM62 581h1v1h-1zM234 604h1v1h-1zM226 620h1v1h-1zM50 575h1v1h-1zM207 603h1v1h-1zM51 591h1v1h-1zM91 587h1v1h-1zM65 562h1v1h-1zM249 580h1v1h-1zM225 568h1v1h-1zM144 569h1v1h-1zM132 571h1v1h-1zM185 570h1v1h-1zM196 591h1v1h-1zM67 582h1v1h-1zM146 617h1v1h-1zM116 574h1v1h-1zM244 614h1v1h-1zM195 577h1v1h-1zM80 577h1v1h-1zM58 563h1v1h-1zM149 585h1v1h-1zM159 583h1v1h-1zM46 602h1v1h-1zM179 594h1v1h-1zM157 603h1v1h-1zM247 614h1v1h-1zM192 585h1v1h-1zM109 586h1v1h-1zM245 584h1v1h-1zM123 586h1v1h-1zM73 621h1v1h-1zM45 598h1v1h-1zM235 576h1v1h-1zM170 583h1v1h-1zM93 573h1v1h-1zM68 612h1v1h-1zM206 616h1v1h-1zM54 603h1v1h-1zM111 600h1v1h-1zM157 580h1v1h-1zM245 561h1v1h-1zM198 613h1v1h-1zM149 597h1v1h-1zM249 575h1v1h-1zM174 606h1v1h-1zM122 604h1v1h-1zM125 593h1v1h-1zM170 602h1v1h-1zM110 599h1v1h-1zM156 574h1v1h-1zM170 577h1v1h-1zM232 589h1v1h-1zM193 592h1v1h-1zM142 574h1v1h-1zM73 617h1v1h-1zM153 592h1v1h-1zM153 610h1v1h-1zM93 571h1v1h-1zM214 589h1v1h-1zM176 611h1v1h-1zM229 613h1v1h-1zM52 584h1v1h-1zM216 610h1v1h-1zM69 570h1v1h-1zM96 567h1v1h-1zM117 609h1v1h-1zM151 588h1v1h-1zM62 585h1v1h-1zM250 603h1v1h-1zM137 590h1v1h-1zM209 607h1v1h-1zM75 602h1v1h-1zM119 592h1v1h-1zM93 583h1v1h-1zM114 584h1v1h-1zM47 573h1v1h-1zM162 564h1v1h-1zM80 604h1v1h-1zM100 580h1v1h-1zM94 611h1v1h-1zM62 599h1v1h-1zM221 573h1v1h-1zM131 609h1v1h-1zM171 583h1v1h-1zM53 587h1v1h-1zM120 604h1v1h-1zM105 585h1v1h-1zM178 610h1v1h-1zM116 584h1v1h-1zM163 617h1v1h-1zM83 620h1v1h-1zM191 583h1v1h-1zM181 581h1v1h-1zM58 607h1v1h-1zM122 593h1v1h-1zM146 615h1v1h-1zM200 562h1v1h-1zM166 589h1v1h-1zM139 612h1v1h-1zM129 589h1v1h-1zM228 587h1v1h-1zM145 592h1v1h-1zM214 601h1v1h-1zM197 585h1v1h-1zM52 602h1v1h-1zM158 607h1v1h-1zM203 568h1v1h-1zM89 565h1v1h-1zM213 567h1v1h-1zM62 606h1v1h-1zM160 564h1v1h-1zM184 604h1v1h-1zM143 564h1v1h-1zM187 586h1v1h-1zM164 621h1v1h-1zM213 614h1v1h-1zM74 581h1v1h-1zM151 561h1v1h-1zM248 577h1v1h-1zM98 580h1v1h-1zM96 613h1v1h-1zM159 592h1v1h-1zM130 564h1v1h-1zM107 613h1v1h-1zM210 613h1v1h-1zM97 573h1v1h-1zM54 593h1v1h-1zM121 589h1v1h-1zM145 596h1v1h-1zM119 609h1v1h-1zM85 617h1v1h-1zM159 564h1v1h-1zM109 593h1v1h-1zM128 595h1v1h-1zM110 577h1v1h-1zM208 578h1v1h-1zM191 609h1v1h-1zM166 588h1v1h-1zM237 588h1v1h-1zM225 564h1v1h-1zM133 599h1v1h-1zM54 613h1v1h-1zM58 597h1v1h-1zM81 617h1v1h-1zM160 609h1v1h-1zM147 602h1v1h-1zM183 578h1v1h-1zM87 612h1v1h-1zM74 616h1v1h-1zM86 567h1v1h-1zM63 608h1v1h-1zM240 586h1v1h-1zM180 576h1v1h-1zM231 602h1v1h-1zM76 564h1v1h-1zM188 563h1v1h-1zM217 578h1v1h-1zM92 596h1v1h-1zM109 595h1v1h-1zM75 616h1v1h-1zM111 612h1v1h-1zM75 609h1v1h-1zM246 584h1v1h-1zM50 584h1v1h-1zM176 574h1v1h-1zM156 566h1v1h-1zM140 605h1v1h-1zM132 602h1v1h-1zM67 611h1v1h-1zM69 617h1v1h-1zM250 618h1v1h-1zM152 578h1v1h-1zM116 606h1v1h-1zM146 617h1v1h-1zM63 590h1v1h-1zM222 597h1v1h-1zM155 566h1v1h-1zM72 577h1v1h-1zM228 612h1v1h-1zM91 617h1v1h-1zM50 597h1v1h-1zM244 582h1v1h-1zM239 601h1v1h-1zM54 581h1v1h-1zM137 576h1v1h-1zM197 571h1v1h-1zM207 579h1v1h-1zM58 595h1v1h-1zM63 594h1v1h-1zM207 597h1v1h-1zM139 563h1v1h-1zM150 566h1v1h-1zM177 569h1v1h-1zM163 582h1v1h-1zM121 601h1v1h-1zM77 571h1v1h-1zM238 581h1v1h-1zM218 614h1v1h-1zM143 570h1v1h-1zM63 614h1v1h-1zM68 591h1v1h-1zM154 568h1v1h-1zM140 571h1v1h-1zM154 591h1v1h-1zM119 573h1v1h-1zM127 573h1v1h-1zM70 575h1v1h-1zM224 591h1v1h-1zM228 561h1v1h-1zM239 590h1v1h-1zM207 595h1v1h-1zM186 574h1v1h-1zM199 570h1v1h-1zM98 562h1v1h-1zM125 592h1v1h-1zM104 615h1v1h-1zM61 596h1v1h-1zM92 597h1v1h-1zM206 604h1v1h-1zM56 575h1v1h-1zM168 620h1v1h-1zM52 598h1v1h-1zM187 610h1v1h-1zM114 610h1v1h-1zM139 617h1v1h-1zM46 618h1v1h-1zM129 585h1v1h-1zM62 575h1v1h-1zM195 602h1v1h-1zM75 582h1v1h-1zM73 573h1v1h-1zM89 581h1v1h-1zM246 621h1v1h-1zM207 590h1v1h-1zM146 608h1v1h-1zM231 606h1v1h-1zM175 573h1v1h-1zM173 612h1v1h-1zM206 566h1v1h-1zM192 582h1v1h-1zM77 619h1v1h-1zM183 606h1v1h-1zM71 611h1v1h-1zM237 616h1v1h-1zM198 611h1v1h-1zM210 597h1v1h-1zM134 611h1v1h-1zM206 614h1v1h-1zM105 619h1v1h-1zM154 618h1v1h-1zM67 620h1v1h-1zM207 576h1v1h-1zM217 575h1v1h-1zM84 588h1v1h-1zM92 591h1v1h-1zM231 602h1v1h-1zM191 584h1v1h-1zM206 609h1v1h-1zM185 618h1v1h-1zM214 585h1v1h-1zM62 600h1v1h-1zM217 581h1v1h-1zM167 612h1v1h-1zM208 561h1v1h-1zM145 561h1v1h-1zM66 610h1v1h-1zM130 597h1v1h-1zM138 581h1v1h-1zM88 582h1v1h-1zM218 598h1v1h-1zM104 566h1v1h-1zM100 603h1v1h-1zM135 601h1v1h-1zM211 568h1v1h-1zM185 563h1v1h-1zM214 572h1v1h-1zM100 619h1v1h-1zM119 574h1v1h-1zM228 598h1v1h-1zM229 585h1v1h-1zM147 619h1v1h-1zM148 621h1v1h-1zM83 611h1v1h-1zM77 593h1v1h-1zM44 571h1v1h-1zM239 588h1v1h-1zM211 576h1v1h-1zM116 567h1v1h-1zM158 613h1v1h-1zM150 583h1v1h-1zM236 615h1v1h-1zM181 565h1v1h-1zM173 588h1v1h-1zM242 583h1v1h-1zM180 599h1v1h-1zM121 592h1v1h-1zM184 616h1v1h-1zM147 583h1v1h-1zM246 564h1v1h-1zM216 602h1v1h-1zM159 588h1v1h-1zM199 615h1v1h-1zM194 606h1v1h-1zM51 580h1v1h-1zM72 619h1v1h-1zM228 569h1v1h-1zM165 596h1v1h-1zM53 584h1v1h-1zM198 600h1v1h-1zM102 607h1v1h-1zM104 594h1v1h-1zM131 620h1v1h-1zM178 610h1v1h-1zM184 584h1v1h-1zM243 604h1v1h-1zM187 577h1v1h-1zM77 596h1v1h-1zM214 609h1v1h-1zM115 569h1v1h-1zM150 614h1v1h-1zM77 606h1v1h-1zM79 580h1v1h-1zM55 579h1v1h-1zM123 619h1v1h-1zM243 572h1v1h-1zM108 618h1v1h-1zM84 580h1v1h-1zM134 567h1v1h-1zM97 585h1v1h-1zM123 619h1v1h-1zM99 573h1v1h-1zM593 608h1v1h-1zM467 624h1v1h-1zM637 611h1v1h-1zM475 627h1v1h-1zM582 597h1v1h-1zM536 617h1v1h-1zM658 612h1v1h-1zM605 602h1v1h-1zM519 627h1v1h-1zM549 598h1v1h-1zM594 599h1v1h-1zM509 611h1v1h-1zM593 617h1v1h-1zM620 610h1v1h-1zM480 621h1v1h-1zM477 611h1v1h-1zM553 619h1v1h-1zM621 603h1v1h-1zM607 619h1v1h-1zM568 600h1v1h-1zM664 616h1v1h-1zM479 603h1v1h-1zM681 603h1v1h-1zM551 623h1v1h-1zM645 617h1v1h-1zM627 596h1v1h-1zM486 630h1v1h-1zM640 596h1v1h-1zM476 603h1v1h-1zM668 602h1v1h-1zM612 628h1v1h-1zM605 628h1v1h-1zM523 600h1v1h-1zM469 622h1v1h-1zM488 630h1v1h-1zM620 601h1v1h-1zM641 600h1v1h-1zM577 598h1v1h-1zM637 627h1v1h-1zM665 595h1v1h-1zM651 615h1v1h-1zM645 613h1v1h-1zM601 616h1v1h-1zM640 597h1v1h-1zM477 614h1v1h-1zM529 609h1v1h-1zM467 621h1v1h-1zM471 624h1v1h-1zM642 611h1v1h-1zM492 618h1v1h-1zM511 610h1v1h-1zM490 630h1v1h-1zM585 607h1v1h-1zM486 621h1v1h-1zM651 625h1v1h-1zM488 608h1v1h-1zM531 622h1v1h-1zM498 616h1v1h-1zM679 622h1v1h-1zM467 597h1v1h-1zM490 619h1v1h-1zM596 613h1v1h-1zM565 609h1v1h-1zM599 618h1v1h-1zM665 621h1v1h-1zM639 627h1v1h-1zM648 620h1v1h-1zM472 619h1v1h-1zM651 610h1v1h-1zM657 601h1v1h-1zM671 610h1v1h-1zM620 604h1v1h-1zM531 607h1v1h-1zM536 598h1v1h-1zM562 630h1v1h-1zM608 628h1v1h-1zM632 625h1v1h-1zM682 622h1v1h-1zM525 603h1v1h-1zM555 595h1v1h-1zM516 626h1v1h-1zM666 606h1v1h-1zM633 622h1v1h-1zM659 623h1v1h-1zM581 598h1v1h-1zM645 606h1v1h-1zM602 608h1v1h-1zM583 629h1v1h-1zM501 614h1v1h-1zM607 614h1v1h-1zM670 609h1v1h-1zM665 619h1v1h-1zM676 598h1v1h-1zM512 605h1v1h-1zM663 595h1v1h-1zM522 620h1v1h-1zM681 601h1v1h-1zM561 619h1v1h-1zM616 621h1v1h-1zM630 603h1v1h-1zM522 595h1v1h-1zM616 602h1v1h-1zM522 629h1v1h-1zM606 616h1v1h-1zM609 616h1v1h-1zM617 605h1v1h-1zM479 597h1v1h-1zM469 608h1v1h-1zM497 599h1v1h-1zM573 629h1v1h-1zM615 604h1v1h-1zM633 601h1v1h-1zM487 605h1v1h-1zM555 619h1v1h-1zM562 621h1v1h-1zM486 628h1v1h-1zM540 624h1v1h-1zM472 624h1v1h-1zM515 625h1v1h-1zM641 619h1v1h-1zM526 595h1v1h-1zM507 627h1v1h-1zM500 618h1v1h-1zM593 618h1v1h-1zM505 600h1v1h-1zM487 630h1v1h-1zM549 618h1v1h-1zM590 603h1v1h-1zM480 595h1v1h-1zM651 599h1v1h-1zM675 608h1v1h-1zM623 599h1v1h-1zM637 604h1v1h-1zM545 613h1v1h-1zM490 603h1v1h-1zM639 605h1v1h-1zM549 622h1v1h-1zM514 601h1v1h-1zM513 608h1v1h-1zM545 618h1v1h-1zM568 626h1v1h-1zM477 618h1v1h-1zM648 603h1v1h-1zM472 610h1v1h-1zM491 611h1v1h-1zM621 598h1v1h-1zM491 612h1v1h-1zM503 603h1v1h-1zM561 599h1v1h-1zM480 608h1v1h-1zM568 628h1v1h-1zM586 597h1v1h-1zM514 621h1v1h-1zM588 626h1v1h-1zM675 625h1v1h-1zM489 628h1v1h-1zM580 603h1v1h-1zM503 626h1v1h-1zM512 597h1v1h-1zM523 628h1v1h-1zM566 621h1v1h-1zM482 611h1v1h-1zM535 602h1v1h-1zM610 608h1v1h-1zM492 630h1v1h-1zM570 601h1v1h-1zM468 618h1v1h-1zM578 595h1v1h-1zM568 621h1v1h-1zM583 603h1v1h-1zM574 616h1v1h-1zM607 600h1v1h-1zM641 629h1v1h-1zM627 625h1v1h-1zM546 627h1v1h-1zM505 603h1v1h-1zM596 627h1v1h-1zM483 602h1v1h-1zM473 610h1v1h-1zM496 601h1v1h-1zM629 615h1v1h-1zM670 609h1v1h-1zM614 595h1v1h-1zM672 603h1v1h-1zM569 613h1v1h-1zM672 612h1v1h-1zM682 617h1v1h-1zM513 625h1v1h-1z"/></g>
<g fill="#1c1c1c"><path d="M165.4 46.3l2.8 0.9l-1.1 2.8zM165.4 46.3h2.3v2.3h-2.3zM176.5 41.1l2.8 0.9l-1.1 2.8zM176.5 41.1h2.3v2.3h-2.3zM204.2 34.2l1.9 0.6l-0.8 1.9zM204.2 34.2h1.5v1.5h-1.5zM216.0 33.2l2.1 0.6l-0.8 2.1zM216.0 33.2h1.7v1.7h-1.7zM228.2 42.9l2.7 0.8l-1.1 2.7zM228.2 42.9h2.1v2.1h-2.1zM165.6 61.0l2.0 0.6l-0.8 2.0zM165.6 61.0h1.6v1.6h-1.6zM186.6 66.0l2.0 0.6l-0.8 2.0zM186.6 66.0h1.6v1.6h-1.6zM206.0 56.7l2.3 0.7l-0.9 2.3zM206.0 56.7h1.9v1.9h-1.9zM224.9 63.8l2.0 0.6l-0.8 2.0zM224.9 63.8h1.6v1.6h-1.6zM234.0 58.6l2.2 0.7l-0.9 2.2zM234.0 58.6h1.7v1.7h-1.7zM248.5 55.4l2.6 0.8l-1.0 2.6zM248.5 55.4h2.1v2.1h-2.1zM154.3 77.5l2.3 0.7l-0.9 2.3zM154.3 77.5h1.8v1.8h-1.8zM172.6 73.9l2.5 0.7l-1.0 2.5zM172.6 73.9h2.0v2.0h-2.0zM198.8 69.6l2.9 0.9l-1.2 2.9zM198.8 69.6h2.3v2.3h-2.3zM221.6 84.3l1.9 0.6l-0.8 1.9zM221.6 84.3h1.5v1.5h-1.5zM231.3 69.2l2.7 0.8l-1.1 2.7zM231.3 69.2h2.1v2.1h-2.1zM160.9 101.6l2.7 0.8l-1.1 2.7zM160.9 101.6h2.2v2.2h-2.2zM176.5 89.2l2.8 0.8l-1.1 2.8zM176.5 89.2h2.2v2.2h-2.2zM199.8 98.2l1.9 0.6l-0.8 1.9zM199.8 98.2h1.5v1.5h-1.5zM209.7 98.0l2.3 0.7l-0.9 2.3zM209.7 98.0h1.8v1.8h-1.8zM228.2 102.0l2.5 0.7l-1.0 2.5zM228.2 102.0h2.0v2.0h-2.0zM167.9 106.1l2.7 0.8l-1.1 2.7zM167.9 106.1h2.2v2.2h-2.2zM179.6 110.5l2.4 0.7l-1.0 2.4zM179.6 110.5h1.9v1.9h-1.9zM205.6 109.4l1.9 0.6l-0.8 1.9zM205.6 109.4h1.6v1.6h-1.6zM217.3 108.9l1.9 0.6l-0.8 1.9zM217.3 108.9h1.5v1.5h-1.5zM229.7 105.8l2.0 0.6l-0.8 2.0zM229.7 105.8h1.6v1.6h-1.6zM166.3 128.0l2.4 0.7l-0.9 2.4zM166.3 128.0h1.9v1.9h-1.9zM175.1 128.9l1.8 0.5l-0.7 1.8zM175.1 128.9h1.5v1.5h-1.5zM194.6 123.5l2.6 0.8l-1.0 2.6zM194.6 123.5h2.1v2.1h-2.1zM217.7 126.4l2.3 0.7l-0.9 2.3zM217.7 126.4h1.9v1.9h-1.9zM242.2 125.0l2.7 0.8l-1.1 2.7zM242.2 125.0h2.2v2.2h-2.2zM157.4 253.4l2.5 0.8l-1.0 2.5zM157.4 253.4h2.0v2.0h-2.0zM176.2 257.3l2.3 0.7l-0.9 2.3zM176.2 257.3h1.8v1.8h-1.8zM190.3 261.5l2.1 0.6l-0.8 2.1zM190.3 261.5h1.7v1.7h-1.7zM206.7 257.3l2.5 0.7l-1.0 2.5zM206.7 257.3h2.0v2.0h-2.0zM212.8 254.4l2.8 0.8l-1.1 2.8zM212.8 254.4h2.2v2.2h-2.2zM233.6 261.7l1.8 0.6l-0.7 1.8zM233.6 261.7h1.5v1.5h-1.5zM239.3 255.0l2.0 0.6l-0.8 2.0zM239.3 255.0h1.6v1.6h-1.6zM157.7 271.8l1.8 0.6l-0.7 1.8zM157.7 271.8h1.5v1.5h-1.5zM171.9 274.9l2.0 0.6l-0.8 2.0zM171.9 274.9h1.6v1.6h-1.6zM192.5 274.1l2.6 0.8l-1.0 2.6zM192.5 274.1h2.1v2.1h-2.1zM199.5 272.4l2.6 0.8l-1.0 2.6zM199.5 272.4h2.0v2.0h-2.0zM214.8 267.2l2.7 0.8l-1.1 2.7zM214.8 267.2h2.2v2.2h-2.2zM234.1 270.6l1.8 0.6l-0.7 1.8zM234.1 270.6h1.5v1.5h-1.5zM154.6 284.3l1.9 0.6l-0.8 1.9zM154.6 284.3h1.5v1.5h-1.5zM177.8 283.8l2.8 0.8l-1.1 2.8zM177.8 283.8h2.2v2.2h-2.2zM191.4 282.3l2.6 0.8l-1.0 2.6zM191.4 282.3h2.1v2.1h-2.1zM201.2 290.4l2.7 0.8l-1.1 2.7zM201.2 290.4h2.2v2.2h-2.2zM214.0 282.4l2.8 0.9l-1.1 2.8zM214.0 282.4h2.3v2.3h-2.3zM229.9 292.6l2.6 0.8l-1.0 2.6zM229.9 292.6h2.0v2.0h-2.0zM247.8 291.4l2.5 0.7l-1.0 2.5zM247.8 291.4h2.0v2.0h-2.0zM159.5 296.1l2.6 0.8l-1.0 2.6zM159.5 296.1h2.1v2.1h-2.1zM173.3 301.6l2.8 0.8l-1.1 2.8zM173.3 301.6h2.3v2.3h-2.3zM183.8 304.7l1.8 0.6l-0.7 1.8zM183.8 304.7h1.5v1.5h-1.5zM205.0 305.2l2.1 0.6l-0.8 2.1zM205.0 305.2h1.7v1.7h-1.7zM217.2 307.2l2.5 0.8l-1.0 2.5zM217.2 307.2h2.0v2.0h-2.0zM231.3 298.5l1.9 0.6l-0.7 1.9zM231.3 298.5h1.5v1.5h-1.5zM243.2 300.4l2.0 0.6l-0.8 2.0zM243.2 300.4h1.6v1.6h-1.6zM157.8 311.2l2.6 0.8l-1.0 2.6zM157.8 311.2h2.1v2.1h-2.1zM176.3 312.5l2.1 0.6l-0.8 2.1zM176.3 312.5h1.7v1.7h-1.7zM188.5 315.0l2.8 0.8l-1.1 2.8zM188.5 315.0h2.3v2.3h-2.3zM200.7 313.2l2.8 0.8l-1.1 2.8zM200.7 313.2h2.2v2.2h-2.2zM212.3 316.4l2.2 0.7l-0.9 2.2zM212.3 316.4h1.7v1.7h-1.7zM234.6 316.2l2.6 0.8l-1.1 2.6zM234.6 316.2h2.1v2.1h-2.1zM240.9 317.7l2.5 0.7l-1.0 2.5zM240.9 317.7h2.0v2.0h-2.0zM159.6 333.0l2.7 0.8l-1.1 2.7zM159.6 333.0h2.2v2.2h-2.2zM169.5 327.2l2.2 0.7l-0.9 2.2zM169.5 327.2h1.8v1.8h-1.8zM184.8 324.4l2.1 0.6l-0.8 2.1zM184.8 324.4h1.7v1.7h-1.7zM198.8 332.2l2.3 0.7l-0.9 2.3zM198.8 332.2h1.8v1.8h-1.8zM211.9 327.7l2.3 0.7l-0.9 2.3zM211.9 327.7h1.9v1.9h-1.9zM229.1 325.8l1.9 0.6l-0.8 1.9zM229.1 325.8h1.5v1.5h-1.5zM239.0 335.8l2.6 0.8l-1.1 2.6zM239.0 335.8h2.1v2.1h-2.1zM155.0 346.6l2.9 0.9l-1.2 2.9zM155.0 346.6h2.3v2.3h-2.3zM175.0 339.2l2.3 0.7l-0.9 2.3zM175.0 339.2h1.9v1.9h-1.9zM187.6 340.2l2.4 0.7l-1.0 2.4zM187.6 340.2h1.9v1.9h-1.9zM196.5 349.0l2.5 0.8l-1.0 2.5zM196.5 349.0h2.0v2.0h-2.0zM218.2 349.2l2.5 0.8l-1.0 2.5zM218.2 349.2h2.0v2.0h-2.0zM227.8 340.8l2.0 0.6l-0.8 2.0zM227.8 340.8h1.6v1.6h-1.6zM239.2 347.3l2.7 0.8l-1.1 2.7zM239.2 347.3h2.2v2.2h-2.2zM157.6 354.3l2.5 0.8l-1.0 2.5zM157.6 354.3h2.0v2.0h-2.0zM178.4 363.2l2.0 0.6l-0.8 2.0zM178.4 363.2h1.6v1.6h-1.6zM191.8 362.1l2.6 0.8l-1.0 2.6zM191.8 362.1h2.1v2.1h-2.1zM200.4 354.2l2.7 0.8l-1.1 2.7zM200.4 354.2h2.2v2.2h-2.2zM214.5 356.5l2.4 0.7l-1.0 2.4zM214.5 356.5h1.9v1.9h-1.9zM229.2 362.1l2.1 0.6l-0.8 2.1zM229.2 362.1h1.7v1.7h-1.7zM239.4 358.9l2.5 0.7l-1.0 2.5zM239.4 358.9h2.0v2.0h-2.0zM164.0 374.7l2.8 0.8l-1.1 2.8zM164.0 374.7h2.2v2.2h-2.2zM179.6 372.1l2.3 0.7l-0.9 2.3zM179.6 372.1h1.9v1.9h-1.9zM184.2 369.8l2.4 0.7l-1.0 2.4zM184.2 369.8h2.0v2.0h-2.0zM197.4 374.5l2.0 0.6l-0.8 2.0zM197.4 374.5h1.6v1.6h-1.6zM215.9 377.9l1.9 0.6l-0.8 1.9zM215.9 377.9h1.5v1.5h-1.5zM225.2 371.5l2.0 0.6l-0.8 2.0zM225.2 371.5h1.6v1.6h-1.6zM247.6 366.2l2.7 0.8l-1.1 2.7zM247.6 366.2h2.2v2.2h-2.2zM164.4 389.8l2.3 0.7l-0.9 2.3zM164.4 389.8h1.8v1.8h-1.8zM171.6 388.3l2.4 0.7l-0.9 2.4zM171.6 388.3h1.9v1.9h-1.9zM187.4 384.4l2.3 0.7l-0.9 2.3zM187.4 384.4h1.8v1.8h-1.8zM204.5 390.3l2.8 0.8l-1.1 2.8zM204.5 390.3h2.2v2.2h-2.2zM212.6 383.9l2.3 0.7l-0.9 2.3zM212.6 383.9h1.8v1.8h-1.8zM231.6 384.5l2.0 0.6l-0.8 2.0zM231.6 384.5h1.6v1.6h-1.6zM239.9 384.2l2.3 0.7l-0.9 2.3zM239.9 384.2h1.8v1.8h-1.8zM165.8 405.5l2.8 0.8l-1.1 2.8zM165.8 405.5h2.2v2.2h-2.2zM180.0 406.1l2.5 0.7l-1.0 2.5zM180.0 406.1h2.0v2.0h-2.0zM192.1 395.1l2.5 0.8l-1.0 2.5zM192.1 395.1h2.0v2.0h-2.0zM203.8 398.0l2.4 0.7l-1.0 2.4zM203.8 398.0h1.9v1.9h-1.9zM222.1 400.3l2.5 0.8l-1.0 2.5zM222.1 400.3h2.0v2.0h-2.0zM228.3 398.6l2.8 0.8l-1.1 2.8zM228.3 398.6h2.2v2.2h-2.2zM239.2 396.7l2.5 0.8l-1.0 2.5zM239.2 396.7h2.0v2.0h-2.0zM159.4 409.6l2.5 0.8l-1.0 2.5zM159.4 409.6h2.0v2.0h-2.0zM172.7 415.6l2.3 0.7l-0.9 2.3zM172.7 415.6h1.8v1.8h-1.8zM188.7 415.4l2.2 0.7l-0.9 2.2zM188.7 415.4h1.8v1.8h-1.8zM197.8 410.8l2.8 0.8l-1.1 2.8zM197.8 410.8h2.2v2.2h-2.2zM217.2 409.9l2.7 0.8l-1.1 2.7zM217.2 409.9h2.2v2.2h-2.2zM227.8 409.7l2.4 0.7l-1.0 2.4zM227.8 409.7h1.9v1.9h-1.9zM241.9 414.5l2.4 0.7l-1.0 2.4zM241.9 414.5h1.9v1.9h-1.9zM156.8 429.7l1.9 0.6l-0.8 1.9zM156.8 429.7h1.5v1.5h-1.5zM174.4 429.9l1.9 0.6l-0.8 1.9zM174.4 429.9h1.5v1.5h-1.5zM187.2 423.6l2.3 0.7l-0.9 2.3zM187.2 423.6h1.8v1.8h-1.8zM206.9 429.4l2.6 0.8l-1.0 2.6zM206.9 429.4h2.1v2.1h-2.1zM219.8 424.1l2.9 0.9l-1.2 2.9zM219.8 424.1h2.3v2.3h-2.3zM233.5 423.9l2.7 0.8l-1.1 2.7zM233.5 423.9h2.2v2.2h-2.2zM243.6 424.8l2.9 0.9l-1.1 2.9zM243.6 424.8h2.3v2.3h-2.3zM160.8 446.3l2.0 0.6l-0.8 2.0zM160.8 446.3h1.6v1.6h-1.6zM177.6 437.5l2.1 0.6l-0.8 2.1zM177.6 437.5h1.6v1.6h-1.6zM186.8 437.0l2.5 0.7l-1.0 2.5zM186.8 437.0h2.0v2.0h-2.0zM199.0 440.5l2.6 0.8l-1.0 2.6zM199.0 440.5h2.1v2.1h-2.1zM215.7 447.6l2.5 0.7l-1.0 2.5zM215.7 447.6h2.0v2.0h-2.0zM235.3 443.7l2.8 0.8l-1.1 2.8zM235.3 443.7h2.2v2.2h-2.2zM163.1 455.1l2.6 0.8l-1.1 2.6zM163.1 455.1h2.1v2.1h-2.1zM176.4 461.0l1.9 0.6l-0.8 1.9zM176.4 461.0h1.5v1.5h-1.5zM186.8 459.9l2.8 0.9l-1.1 2.8zM186.8 459.9h2.3v2.3h-2.3zM205.2 451.5l2.5 0.7l-1.0 2.5zM205.2 451.5h2.0v2.0h-2.0zM211.8 457.7l2.7 0.8l-1.1 2.7zM211.8 457.7h2.1v2.1h-2.1zM226.1 462.2l2.5 0.8l-1.0 2.5zM226.1 462.2h2.0v2.0h-2.0zM241.9 453.3l2.3 0.7l-0.9 2.3zM241.9 453.3h1.8v1.8h-1.8zM164.2 472.2l1.9 0.6l-0.8 1.9zM164.2 472.2h1.5v1.5h-1.5zM168.4 466.5l2.7 0.8l-1.1 2.7zM168.4 466.5h2.1v2.1h-2.1zM184.5 471.9l2.1 0.6l-0.8 2.1zM184.5 471.9h1.7v1.7h-1.7zM204.8 469.8l2.0 0.6l-0.8 2.0zM204.8 469.8h1.6v1.6h-1.6zM221.2 471.7l2.6 0.8l-1.0 2.6zM221.2 471.7h2.0v2.0h-2.0zM234.5 476.7l1.8 0.5l-0.7 1.8zM234.5 476.7h1.5v1.5h-1.5zM243.0 467.0l2.4 0.7l-0.9 2.4zM243.0 467.0h1.9v1.9h-1.9zM164.6 489.0l1.8 0.6l-0.7 1.8zM164.6 489.0h1.5v1.5h-1.5zM170.4 489.2l2.5 0.8l-1.0 2.5zM170.4 489.2h2.0v2.0h-2.0zM187.1 485.1l2.0 0.6l-0.8 2.0zM187.1 485.1h1.6v1.6h-1.6zM206.7 484.1l2.8 0.8l-1.1 2.8zM206.7 484.1h2.2v2.2h-2.2zM218.0 480.2l2.2 0.6l-0.9 2.2zM218.0 480.2h1.7v1.7h-1.7zM227.3 490.1l2.4 0.7l-1.0 2.4zM227.3 490.1h2.0v2.0h-2.0zM239.4 481.3l2.2 0.7l-0.9 2.2zM239.4 481.3h1.8v1.8h-1.8zM159.7 500.4l2.2 0.7l-0.9 2.2zM159.7 500.4h1.8v1.8h-1.8zM172.4 493.5l2.4 0.7l-1.0 2.4zM172.4 493.5h1.9v1.9h-1.9zM186.3 493.7l2.3 0.7l-0.9 2.3zM186.3 493.7h1.8v1.8h-1.8zM208.4 494.0l2.0 0.6l-0.8 2.0zM208.4 494.0h1.6v1.6h-1.6zM218.7 496.7l2.1 0.6l-0.8 2.1zM218.7 496.7h1.7v1.7h-1.7zM230.8 496.6l2.4 0.7l-1.0 2.4zM230.8 496.6h1.9v1.9h-1.9zM245.3 505.0l2.9 0.9l-1.2 2.9zM245.3 505.0h2.3v2.3h-2.3zM154.4 514.4l2.6 0.8l-1.1 2.6zM154.4 514.4h2.1v2.1h-2.1zM178.7 517.0l2.5 0.7l-1.0 2.5zM178.7 517.0h2.0v2.0h-2.0zM190.0 512.0l2.1 0.6l-0.8 2.1zM190.0 512.0h1.7v1.7h-1.7zM206.1 518.2l2.8 0.8l-1.1 2.8zM206.1 518.2h2.3v2.3h-2.3zM218.8 511.2l2.6 0.8l-1.1 2.6zM218.8 511.2h2.1v2.1h-2.1zM233.7 513.7l2.5 0.7l-1.0 2.5zM233.7 513.7h2.0v2.0h-2.0zM243.1 514.2l2.2 0.7l-0.9 2.2zM243.1 514.2h1.8v1.8h-1.8zM154.7 525.8l2.2 0.6l-0.9 2.2zM154.7 525.8h1.7v1.7h-1.7zM180.1 527.5l2.2 0.7l-0.9 2.2zM180.1 527.5h1.8v1.8h-1.8zM185.2 524.6l2.2 0.7l-0.9 2.2zM185.2 524.6h1.7v1.7h-1.7zM198.1 521.8l2.8 0.8l-1.1 2.8zM198.1 521.8h2.2v2.2h-2.2zM216.1 527.1l2.4 0.7l-1.0 2.4zM216.1 527.1h1.9v1.9h-1.9zM228.4 523.8l1.9 0.6l-0.7 1.9zM228.4 523.8h1.5v1.5h-1.5zM242.5 525.4l2.6 0.8l-1.0 2.6zM242.5 525.4h2.1v2.1h-2.1zM160.7 547.2l2.2 0.7l-0.9 2.2zM160.7 547.2h1.7v1.7h-1.7zM179.3 542.9l1.9 0.6l-0.8 1.9zM179.3 542.9h1.5v1.5h-1.5zM184.5 542.9l2.9 0.9l-1.2 2.9zM184.5 542.9h2.3v2.3h-2.3zM200.8 545.2l2.3 0.7l-0.9 2.3zM200.8 545.2h1.8v1.8h-1.8zM221.1 536.7l2.3 0.7l-0.9 2.3zM221.1 536.7h1.9v1.9h-1.9zM235.6 539.2l2.1 0.6l-0.8 2.1zM235.6 539.2h1.7v1.7h-1.7zM239.1 537.8l2.1 0.6l-0.8 2.1zM239.1 537.8h1.7v1.7h-1.7zM162.6 552.6l2.2 0.7l-0.9 2.2zM162.6 552.6h1.8v1.8h-1.8zM170.6 557.3l2.8 0.8l-1.1 2.8zM170.6 557.3h2.2v2.2h-2.2zM190.2 552.4l2.6 0.8l-1.0 2.6zM190.2 552.4h2.1v2.1h-2.1zM208.1 557.3l1.9 0.6l-0.8 1.9zM208.1 557.3h1.5v1.5h-1.5zM228.9 551.6l2.0 0.6l-0.8 2.0zM228.9 551.6h1.6v1.6h-1.6zM56.0 567.5l2.7 0.8l-1.1 2.7zM56.0 567.5h2.2v2.2h-2.2zM66.9 571.5l2.1 0.6l-0.9 2.1zM66.9 571.5h1.7v1.7h-1.7zM75.1 571.2l2.3 0.7l-0.9 2.3zM75.1 571.2h1.9v1.9h-1.9zM94.2 570.1l2.6 0.8l-1.1 2.6zM94.2 570.1h2.1v2.1h-2.1zM104.9 566.4l2.8 0.8l-1.1 2.8zM104.9 566.4h2.2v2.2h-2.2zM122.1 565.5l2.5 0.7l-1.0 2.5zM122.1 565.5h2.0v2.0h-2.0zM133.0 571.4l1.8 0.6l-0.7 1.8zM133.0 571.4h1.5v1.5h-1.5zM154.0 568.9l2.2 0.7l-0.9 2.2zM154.0 568.9h1.8v1.8h-1.8zM169.5 565.2l2.1 0.6l-0.8 2.1zM169.5 565.2h1.7v1.7h-1.7zM173.1 568.7l2.6 0.8l-1.1 2.6zM173.1 568.7h2.1v2.1h-2.1zM194.7 567.0l2.7 0.8l-1.1 2.7zM194.7 567.0h2.2v2.2h-2.2zM201.9 565.7l2.5 0.8l-1.0 2.5zM201.9 565.7h2.0v2.0h-2.0zM226.5 569.7l2.6 0.8l-1.0 2.6zM226.5 569.7h2.0v2.0h-2.0zM238.3 566.8l2.8 0.9l-1.1 2.8zM238.3 566.8h2.3v2.3h-2.3zM49.8 585.9l2.2 0.7l-0.9 2.2zM49.8 585.9h1.7v1.7h-1.7zM61.4 586.7l2.4 0.7l-1.0 2.4zM61.4 586.7h1.9v1.9h-1.9zM79.6 584.3l2.8 0.8l-1.1 2.8zM79.6 584.3h2.2v2.2h-2.2zM89.0 580.3l1.9 0.6l-0.7 1.9zM89.0 580.3h1.5v1.5h-1.5zM106.6 582.2l2.7 0.8l-1.1 2.7zM106.6 582.2h2.2v2.2h-2.2zM123.8 583.2l2.2 0.7l-0.9 2.2zM123.8 583.2h1.8v1.8h-1.8zM136.8 579.5l2.7 0.8l-1.1 2.7zM136.8 579.5h2.2v2.2h-2.2zM153.6 586.3l2.0 0.6l-0.8 2.0zM153.6 586.3h1.6v1.6h-1.6zM166.3 585.3l2.4 0.7l-0.9 2.4zM166.3 585.3h1.9v1.9h-1.9zM183.2 587.1l2.6 0.8l-1.0 2.6zM183.2 587.1h2.1v2.1h-2.1zM196.4 584.0l2.8 0.8l-1.1 2.8zM196.4 584.0h2.2v2.2h-2.2zM202.2 584.7l2.6 0.8l-1.0 2.6zM202.2 584.7h2.1v2.1h-2.1zM222.1 579.5l1.9 0.6l-0.7 1.9zM222.1 579.5h1.5v1.5h-1.5zM236.2 586.2l2.1 0.6l-0.8 2.1zM236.2 586.2h1.7v1.7h-1.7zM245.6 578.9l1.9 0.6l-0.8 1.9zM245.6 578.9h1.5v1.5h-1.5zM53.2 602.1l2.7 0.8l-1.1 2.7zM53.2 602.1h2.1v2.1h-2.1zM63.5 598.8l1.9 0.6l-0.8 1.9zM63.5 598.8h1.5v1.5h-1.5zM83.5 594.2l1.8 0.5l-0.7 1.8zM83.5 594.2h1.4v1.4h-1.4zM95.1 592.0l2.1 0.6l-0.8 2.1zM95.1 592.0h1.7v1.7h-1.7zM102.3 595.7l2.4 0.7l-1.0 2.4zM102.3 595.7h1.9v1.9h-1.9zM125.5 590.8l2.7 0.8l-1.1 2.7zM125.5 590.8h2.2v2.2h-2.2zM131.2 593.0l2.5 0.7l-1.0 2.5zM131.2 593.0h2.0v2.0h-2.0zM148.1 594.3l2.4 0.7l-1.0 2.4zM148.1 594.3h1.9v1.9h-1.9zM160.8 599.9l2.0 0.6l-0.8 2.0zM160.8 599.9h1.6v1.6h-1.6zM182.5 600.1l2.4 0.7l-1.0 2.4zM182.5 600.1h1.9v1.9h-1.9zM186.8 599.7l1.8 0.5l-0.7 1.8zM186.8 599.7h1.5v1.5h-1.5zM206.7 595.4l1.9 0.6l-0.7 1.9zM206.7 595.4h1.5v1.5h-1.5zM222.4 599.1l2.4 0.7l-1.0 2.4zM222.4 599.1h2.0v2.0h-2.0zM233.7 596.5l2.4 0.7l-1.0 2.4zM233.7 596.5h2.0v2.0h-2.0zM245.7 600.8l2.9 0.9l-1.2 2.9zM245.7 600.8h2.3v2.3h-2.3zM54.8 616.1l2.2 0.6l-0.9 2.2zM54.8 616.1h1.7v1.7h-1.7zM71.1 605.3l2.3 0.7l-0.9 2.3zM71.1 605.3h1.9v1.9h-1.9zM74.9 609.9l2.6 0.8l-1.0 2.6zM74.9 609.9h2.0v2.0h-2.0zM96.0 609.9l2.2 0.7l-0.9 2.2zM96.0 609.9h1.7v1.7h-1.7zM103.9 609.3l2.1 0.6l-0.8 2.1zM103.9 609.3h1.7v1.7h-1.7zM118.1 613.4l2.4 0.7l-0.9 2.4zM118.1 613.4h1.9v1.9h-1.9zM135.2 606.8l2.6 0.8l-1.0 2.6zM135.2 606.8h2.1v2.1h-2.1zM146.4 607.7l2.4 0.7l-1.0 2.4zM146.4 607.7h1.9v1.9h-1.9zM166.7 616.2l2.6 0.8l-1.0 2.6zM166.7 616.2h2.1v2.1h-2.1zM183.8 615.6l2.6 0.8l-1.0 2.6zM183.8 615.6h2.1v2.1h-2.1zM195.2 605.2l2.0 0.6l-0.8 2.0zM195.2 605.2h1.6v1.6h-1.6zM200.7 614.9l2.6 0.8l-1.0 2.6zM200.7 614.9h2.1v2.1h-2.1zM222.4 607.6l2.2 0.7l-0.9 2.2zM222.4 607.6h1.8v1.8h-1.8zM230.8 612.1l2.9 0.9l-1.2 2.9zM230.8 612.1h2.3v2.3h-2.3zM246.7 605.0l2.0 0.6l-0.8 2.0zM246.7 605.0h1.6v1.6h-1.6zM74.5 619.9l2.0 0.6l-0.8 2.0zM74.5 619.9h1.6v1.6h-1.6zM175.3 618.8l2.8 0.8l-1.1 2.8zM175.3 618.8h2.2v2.2h-2.2zM244.6 618.7l2.0 0.6l-0.8 2.0zM244.6 618.7h1.6v1.6h-1.6zM469.2 606.9l2.3 0.7l-0.9 2.3zM469.2 606.9h1.8v1.8h-1.8zM482.4 606.5l2.2 0.6l-0.9 2.2zM482.4 606.5h1.7v1.7h-1.7zM497.3 599.7l2.5 0.8l-1.0 2.5zM497.3 599.7h2.0v2.0h-2.0zM506.0 600.1l2.0 0.6l-0.8 2.0zM506.0 600.1h1.6v1.6h-1.6zM527.7 596.0l2.5 0.7l-1.0 2.5zM527.7 596.0h2.0v2.0h-2.0zM534.4 601.0l2.4 0.7l-1.0 2.4zM534.4 601.0h1.9v1.9h-1.9zM552.2 597.5l2.1 0.6l-0.8 2.1zM552.2 597.5h1.7v1.7h-1.7zM558.7 606.5l2.0 0.6l-0.8 2.0zM558.7 606.5h1.6v1.6h-1.6zM571.8 601.7l2.4 0.7l-1.0 2.4zM571.8 601.7h2.0v2.0h-2.0zM592.9 596.6l2.1 0.6l-0.8 2.1zM592.9 596.6h1.6v1.6h-1.6zM597.9 602.4l2.3 0.7l-0.9 2.3zM597.9 602.4h1.8v1.8h-1.8zM613.5 605.7l2.5 0.8l-1.0 2.5zM613.5 605.7h2.0v2.0h-2.0zM631.3 606.4l2.1 0.6l-0.8 2.1zM631.3 606.4h1.7v1.7h-1.7zM645.1 600.4l1.9 0.6l-0.7 1.9zM645.1 600.4h1.5v1.5h-1.5zM657.7 597.1l1.8 0.5l-0.7 1.8zM657.7 597.1h1.5v1.5h-1.5zM663.8 599.2l2.9 0.9l-1.1 2.9zM663.8 599.2h2.3v2.3h-2.3zM472.8 618.2l2.7 0.8l-1.1 2.7zM472.8 618.2h2.2v2.2h-2.2zM487.0 614.5l1.9 0.6l-0.8 1.9zM487.0 614.5h1.5v1.5h-1.5zM495.5 616.1l2.4 0.7l-1.0 2.4zM495.5 616.1h2.0v2.0h-2.0zM514.5 618.7l2.9 0.9l-1.1 2.9zM514.5 618.7h2.3v2.3h-2.3zM520.7 609.7l2.8 0.8l-1.1 2.8zM520.7 609.7h2.2v2.2h-2.2zM537.8 610.9l2.6 0.8l-1.0 2.6zM537.8 610.9h2.0v2.0h-2.0zM547.2 611.5l2.2 0.7l-0.9 2.2zM547.2 611.5h1.8v1.8h-1.8zM563.1 616.3l1.9 0.6l-0.8 1.9zM563.1 616.3h1.5v1.5h-1.5zM578.4 615.7l2.3 0.7l-0.9 2.3zM578.4 615.7h1.9v1.9h-1.9zM590.5 617.6l1.8 0.5l-0.7 1.8zM590.5 617.6h1.4v1.4h-1.4zM601.3 616.3l2.6 0.8l-1.0 2.6zM601.3 616.3h2.1v2.1h-2.1zM616.1 610.9l2.9 0.9l-1.1 2.9zM616.1 610.9h2.3v2.3h-2.3zM630.5 611.5l2.3 0.7l-0.9 2.3zM630.5 611.5h1.8v1.8h-1.8zM645.3 611.2l2.3 0.7l-0.9 2.3zM645.3 611.2h1.8v1.8h-1.8zM658.2 618.7l2.1 0.6l-0.8 2.1zM658.2 618.7h1.6v1.6h-1.6zM668.7 612.8l2.5 0.8l-1.0 2.5zM668.7 612.8h2.0v2.0h-2.0zM681.9 610.3l2.0 0.6l-0.8 2.0zM681.9 610.3h1.6v1.6h-1.6zM469.3 624.7l1.8 0.6l-0.7 1.8zM469.3 624.7h1.5v1.5h-1.5zM481.4 626.3l2.3 0.7l-0.9 2.3zM481.4 626.3h1.8v1.8h-1.8zM493.7 628.2l2.8 0.9l-1.1 2.8zM493.7 628.2h2.3v2.3h-2.3zM512.0 625.7l2.6 0.8l-1.0 2.6zM512.0 625.7h2.1v2.1h-2.1zM523.4 623.7l2.3 0.7l-0.9 2.3zM523.4 623.7h1.9v1.9h-1.9zM546.2 625.9l2.9 0.9l-1.1 2.9zM546.2 625.9h2.3v2.3h-2.3zM577.3 628.7l2.6 0.8l-1.0 2.6zM577.3 628.7h2.1v2.1h-2.1zM593.7 624.0l2.6 0.8l-1.1 2.6zM593.7 624.0h2.1v2.1h-2.1zM599.4 624.6l2.7 0.8l-1.1 2.7zM599.4 624.6h2.2v2.2h-2.2zM631.5 628.2l2.0 0.6l-0.8 2.0zM631.5 628.2h1.6v1.6h-1.6zM635.0 627.7l2.6 0.8l-1.0 2.6zM635.0 627.7h2.1v2.1h-2.1zM650.7 622.6l1.8 0.5l-0.7 1.8zM650.7 622.6h1.4v1.4h-1.4zM673.6 624.3l2.1 0.6l-0.8 2.1zM673.6 624.3h1.7v1.7h-1.7z"/></g>

<defs>
<clipPath id="cop"><path d="M673,30 L152,30 L152,36 L146,36 C137,36 131,29 131,20 C131,11 139,4 148,4 C185,4 225,13 252,14.5 L673,15 Z"/></clipPath>
<clipPath id="dome"><path d="M151,107 C140,112 131,125 131,150 V258 C131,275 140,284 151,289 Z"/></clipPath>
</defs>
<g fill="none" stroke="#141414" stroke-width="1.6" stroke-linejoin="round">
<!-- coping -->
<path d="M673,30.3 L152,30.3 M152,30.3 L152,36 L146,36 C137,36 131,29 131,20 C131,11 139,4 148,4 C185,4 225,13 252,14.5 L673,14.8" stroke-width="1.2" stroke="#222a30"/>
<path d="M343,15V30M384,15V30" stroke-width="1.3"/>
<!-- walls -->
<path d="M252,14.5V623.5"/>
<path d="M152,30V560H43"/>
<path d="M252,623.8H465V594.5H684.5V623.8H740"/>
<!-- water -->
<path d="M80,66H116q2.5,-3 5,0q2.5,-3 5,0H139q2.5,-3 5,0H152" stroke-width="1"/>
<!-- dimension -->
<path d="M81.5,70V188" stroke-width="1"/>
</g>
<path d="M81.5,66l-2.6,12h5.2zM81.5,192l-2.6,-12h5.2z" fill="#1a1a1a"/>
<text transform="translate(75.6,129.5) rotate(-90) scale(1.02,1.13)" text-anchor="middle" font-size="20" fill="#1a1a1a">300</text>
<!-- centerline -->
<path d="M62,192.5H511" fill="none" stroke="#1a1a1a" stroke-width="1.1" stroke-dasharray="20 4 4 4"/>

<!-- lamp -->
<g clip-path="url(#dome)">
<path d="M151,107 C140,112 131,125 131,150 L131,185 C132,172 135,160 139,152 L145,140 L145,110 Z" fill="#111"/>
<path d="M133.5,130.8Q139.1,127.8 144.8,124.8M133.3,136.4Q139.0,133.6 144.8,130.8M133.1,141.9Q138.9,139.4 144.8,136.9M132.9,147.5Q138.8,145.2 144.8,142.9M132.7,153.0Q138.7,151.0 144.8,148.9M132.5,158.5Q138.7,156.7 144.8,154.9M132.4,164.0Q138.6,162.5 144.8,161.0M132.2,169.4Q138.5,168.2 144.8,167.0M132.1,174.9Q138.5,174.0 144.8,173.0" stroke="#111" stroke-width="4.2" stroke-linecap="round" fill="none"/>
<path d="M132.1,180.3Q138.4,179.7 144.8,179.1M132.0,185.7Q138.4,185.4 144.8,185.1M132.0,191.1Q138.4,192.1 144.8,191.1M132.1,195.8Q138.3,197.5 144.8,197.2M132.3,200.6Q138.3,202.9 144.8,203.2M132.6,205.4Q138.4,208.3 144.8,209.2M133.0,210.3Q138.5,213.7 144.8,215.2M133.5,215.4Q138.7,219.2 144.8,221.3M134.0,220.5Q138.8,224.8 144.8,227.3" stroke="#111" stroke-width="3.6" stroke-linecap="round" fill="none"/>
<path d="M133.5,130.8Q139.1,127.8 144.8,124.8M133.3,136.4Q139.0,133.6 144.8,130.8M133.1,141.9Q138.9,139.4 144.8,136.9M132.9,147.5Q138.8,145.2 144.8,142.9M132.7,153.0Q138.7,151.0 144.8,148.9" stroke="#fff" stroke-width="1.2" stroke-linecap="round" fill="none"/>
<path d="M132.5,158.5Q138.7,156.7 144.8,154.9M132.4,164.0Q138.6,162.5 144.8,161.0M132.2,169.4Q138.5,168.2 144.8,167.0M132.1,174.9Q138.5,174.0 144.8,173.0" stroke="#fff" stroke-width="1.5" stroke-linecap="round" fill="none"/>
<path d="M132.1,180.3Q138.4,179.7 144.8,179.1M132.0,185.7Q138.4,185.4 144.8,185.1M132.0,191.1Q138.4,192.1 144.8,191.1M132.1,195.8Q138.3,197.5 144.8,197.2M132.3,200.6Q138.3,202.9 144.8,203.2M132.6,205.4Q138.4,208.3 144.8,209.2M133.0,210.3Q138.5,213.7 144.8,215.2M133.5,215.4Q138.7,219.2 144.8,221.3M134.0,220.5Q138.8,224.8 144.8,227.3" stroke="#fff" stroke-width="1.4" stroke-linecap="round" fill="none"/>
<path d="M131.5,258 C131.5,274 139,283 151,289" stroke="#111" stroke-width="2.2" fill="none"/>
<path d="M134.5,270 L146,280M137,267 L146,274" stroke="#111" stroke-width="1" fill="none"/>
</g>
<g fill="#fff" stroke="#141414" stroke-width="1.6">
<path d="M151,107 C140,112 131,125 131,150 V258 C131,275 140,284 151,289" fill="none" stroke-width="1.6"/>
<rect x="123.5" y="152" width="7" height="10.5"/>
<rect x="122.2" y="179.2" width="8.6" height="25.7" rx="1"/>
<path d="M122.2,184.3h8.6M122.2,188.4h8.6M122.2,196h8.6M122.2,200.7h8.6" fill="none"/>
</g>
<path d="M151.5,107V289" stroke="#111" stroke-width="2.8"/>
<!-- housing -->
<g fill="none" stroke="#141414" stroke-width="1.6">
<path d="M160,144.5H252M160,251H252"/>
<path d="M181.3,137.5V255" stroke-width="2"/>
<path d="M206,139V254M231.5,139V254" stroke-width="1.6"/>
<g fill="#fff">
<rect x="153" y="138" width="7.3" height="9.5"/>
<rect x="153" y="151" width="7.3" height="8.5"/>
<rect x="153" y="166" width="7.3" height="7"/>
<rect x="153" y="179" width="7.3" height="8"/>
<rect x="153" y="207" width="7.3" height="8"/>
<rect x="153" y="234.5" width="7.3" height="8.5"/>
<rect x="153" y="243" width="7.3" height="8"/>
</g>
<!-- wall flange -->
<rect x="252.2" y="172.3" width="12.4" height="77.6"/>
<path d="M254.2,172.3V250"/>
<rect x="264" y="177" width="6.5" height="30.5"/>
<rect x="264" y="213.5" width="6" height="31.5"/>
<rect x="270" y="216" width="5.3" height="26.5"/>
<!-- cable at wall -->
<rect x="252.2" y="153" width="6.4" height="12" fill="#fff"/>
<path d="M258.6,156.3H276C295,156.3 305.5,135 305.5,112V70M258.6,161.2H276C302,161.2 312.7,138 312.7,112V70"/>
<path d="M302,66.3L301.5,56Q302,53.6 305,53.6H314Q317,53.6 317.3,56L317,66.3ZM301.8,55.8H317M317.2,56.5h4.4v6h-4.4zM301.6,56.5h-4.6v6h4.6zM305.5,66.3L306.5,69.5H311.5L312.7,66.3" stroke-width="1.3"/>
<path d="M280,158H556M280,161.2H556" stroke-dasharray="28 5 7 5" stroke-width="1.3"/>
<!-- upper pipe -->
<path d="M270.5,179H352.5M270.5,205.3H352.5M434.6,179H511.5M434.6,205.3H511.5" stroke-dasharray="30 5 8 5"/>
<path d="M340,179H352.5M340,205.3H352.5M434.6,179H446M434.6,205.3H446M500,179H511.5M500,205.3H511.5"/>
<!-- upper valve -->
<g fill="#fff">
<rect x="352.5" y="174" width="14" height="36.3" rx="2"/>
<rect x="366" y="167.3" width="17.2" height="50.2" rx="3.5"/>
<rect x="383.2" y="172.3" width="21.3" height="39.7"/>
<rect x="404.5" y="167.3" width="15.2" height="50.2" rx="3.5"/>
<rect x="419.7" y="174" width="14.9" height="36.3" rx="2"/>
<rect x="386.6" y="156" width="14.1" height="16.3"/>
</g>
<path d="M372.3,172.4h10.9v6.7h-10.9zM372.3,183.7h10.9v6.2h-10.9zM372.3,195h10.9v6.2h-10.9zM372.3,206.9h10.9v6.7h-10.9z"/>
<path d="M404.5,172.4h10.5v6.7h-10.5zM404.5,183.7h10.5v6.2h-10.5zM404.5,195h10.5v6.2h-10.5zM404.5,206.9h10.5v6.7h-10.5z"/>
<path d="M362.0,178.0H354.8V182.1H362.0V186.1H354.8V190.2H362.0V194.3H354.8V198.4H362.0V202.4H354.8V206.5H362.0" stroke-width="1.3"/>
<path d="M424.9,178.0H432.1V182.1H424.9V186.1H432.1V190.2H424.9V194.3H432.1V198.4H424.9V202.4H432.1V206.5H424.9" stroke-width="1.3"/>
<path d="M372,148 L436,140.8 C440,140.5 440,145.5 437,146.5 L400.7,156.5 H386.6 L372,155.5 C367.5,155 367.5,148.5 372,148Z" fill="#fff"/>
</g>
<!-- lower-left elbow (wall) -->
<g fill="none" stroke="#141414" stroke-width="1.6">
<path d="M275.3,213.3H287M320.5,246.8V258.5H288.7V245H275.3"/><path d="M287,213.3A33.5,33.5 0 0 1 320.5,246.8" stroke-dasharray="22 4 7 4 100"/>
<path d="M240,229.5H275" stroke-dasharray="8 4"/>
<path d="M275,229.5H287A17.5,17.5 0 0 1 304.5,247V258.5"/>
<path d="M291.8,258.5V414M317.8,258.5V414"/>
<path d="M289.6,414H320V433.7L323.2,440V461H285.8V440L289.6,433.7Z"/>
<path d="M292,431.8H318M290,440.3H320"/>
<rect x="289" y="461" width="32" height="4.5"/>
<path d="M304.5,414V466" stroke-dasharray="8 4"/>
<!-- lower elbow -->
<path d="M285.8,485V465.5H323.5V481.6H339.6V519H318.8"/><path d="M285.8,485A33.8,33.8 0 0 0 318.8,519" stroke-dasharray="18 5 7 5 100"/><rect x="339.6" y="485" width="4.4" height="31"/>
<path d="M304.5,466V484A16.5,16.5 0 0 0 321,500.6H343.5"/>
<!-- lower valve -->
<g fill="#fff">
<rect x="343.5" y="479.8" width="17.2" height="41.4" rx="2"/>
<rect x="360.7" y="471.7" width="19.6" height="57.6" rx="4"/>
<rect x="380.3" y="477" width="25.3" height="47.2"/>
<rect x="405.6" y="471.7" width="19" height="57.6" rx="4"/>
<rect x="424.6" y="480" width="17.8" height="41" rx="2"/>
<rect x="384.6" y="458.8" width="17.2" height="18.2"/>
</g>
<path d="M367.4,477.8h12.9v7.2h-12.9zM367.4,491h12.9v7.3h-12.9zM367.4,504.4h12.9v6.8h-12.9zM367.4,517.7h12.9v7.5h-12.9z"/>
<path d="M405.6,477.8h12.5v7.2h-12.5zM405.6,491h12.5v7.3h-12.5zM405.6,504.4h12.5v6.8h-12.5zM405.6,517.7h12.5v7.5h-12.5z"/>
<path d="M355.8,484.5H347.3V489.0H355.8V493.5H347.3V498.0H355.8V502.5H347.3V507.0H355.8V511.5H347.3V516.0H355.8" stroke-width="1.3"/>
<path d="M429.5,484.5H438.7V489.0H429.5V493.5H438.7V498.0H429.5V502.5H438.7V507.0H429.5V511.5H438.7V516.0H429.5" stroke-width="1.3"/>
<path d="M368,447.6 L443,439.3 C447.5,439 447.5,444.5 444,445.5 L401.8,458.8 H384.6 L368,455.8 C363.5,455 363.5,448 368,447.6Z" fill="#fff"/>
<path d="M321,500.6H700" stroke-dasharray="10 4 3 4" stroke-width="1.2"/>
<!-- inlet pipe -->
<rect x="441.9" y="484" width="3.1" height="34"/>
<path d="M445,481.7H462.5L476,477V523.7L462.5,519.7H445Z"/>
<path d="M463.3,485V515"/>
<!-- upper right elbow -->
<path d="M527.5,176H511.5V207.8H525V222.2H556.6V205"/><path d="M527.5,176A29,29 0 0 1 556.6,205" stroke-dasharray="19 3 6 3 100"/>
<path d="M511.5,192.3H527A14,14 0 0 1 541,206.3V222"/>
<path d="M527.5,222.2V376M540.9,222.2V376M554,222.2V376"/>
<path d="M524.7,376H555.8V393.7L558.3,402H522L524.7,393.7Z"/><path d="M540.9,376V394"/>
<path d="M528,394H553"/>
<rect x="518.4" y="402" width="44" height="15.2"/>
<path d="M513.3,434.5V421Q513.3,417 517.3,417H563.2Q567.2,417 567.2,421V434.5Z" fill="#fff"/>
<path d="M516,423h7.6v10.2h-7.6zM528.2,423h7.6v10.2h-7.6zM542.7,423h7.6v10.2h-7.6zM554.6,423h7.6v10.2h-7.6z"/>
<rect x="516" y="434.5" width="45.7" height="6.8"/>
<path d="M540.9,402V441" stroke-dasharray="6 3"/>
<path d="M520.6,441.3L516,461H556.6V441.3"/>
<!-- pump -->
<rect x="494" y="452.2" width="62.5" height="96.5"/>
<path d="M494,474.4H556.5M494,476.6H556.5M494,487.2H556.5M494,489.5H556.5M494,512H556.5M494,514.3H556.5M494,524.3H556.5M494,526.5H556.5"/>
<path d="M494,500.6H556.5" stroke-width="2.2"/>
<rect x="490" y="455.5" width="4" height="90"/>
<rect x="483.3" y="457" width="6.7" height="13"/>
<rect x="483.3" y="531" width="6.7" height="13.3"/>
<rect x="475.5" y="473.3" width="14.5" height="54.3"/>
<path d="M556.5,443.3H576.8V558.2H556.5M576.8,443.3L581,472V530L576.8,558.2"/>
<path d="M581,472C587,469.5 593,468.5 600.5,468.5V535C593,535 587,534 581,530"/>
<path d="M583.5,471V531M593.3,469V535"/>
<path d="M494,548.7V559L485.6,592.2M556.5,548.7V573M485.6,592.2H680M511.6,592.2V594.5M585.6,592.2V594.5M519,592.2L522.4,581.6H589L592.4,592.2M539.4,581.6L542,573.5H671M640.8,573.5L649,550H664.5L680,592.2"/>
<rect x="649.5" y="539.5" width="14.5" height="10.5"/>
<!-- motor -->
<rect x="600" y="463.5" width="7" height="75"/>
<rect x="607" y="463.5" width="65" height="75"/>
<path d="M607,471.7H672M607,474.3H672M607,479.4H672M607,484.5H672M607,489.6H672M607,494.7H672M607,499.8H672M607,504.9H672M607,510.0H672M607,515.1H672M607,520.2H672M607,525.3H672M607,530.4H672M607,535.5H672" stroke-width="1.3"/>
<path d="M672,462.7H680A16.3,16.3 0 0 1 696.3,479V524.5A16.3,16.3 0 0 1 680,540.8H672Z"/>
<rect x="613.5" y="450.8" width="32.3" height="20.6" fill="#fff"/>
<path d="M613.5,454H645.8"/>
<circle cx="622.2" cy="464.4" r="3.8"/>
<circle cx="637" cy="464.4" r="3.8"/>

<!-- cable to motor -->
<path d="M593.5,126.6V452Q593.5,458 599.5,458H604.4M599.5,126.6V452"/>
<rect x="604.4" y="451.7" width="7.6" height="10.1"/>
<!-- junction box -->
<rect x="569.2" y="62" width="73.3" height="52" rx="2"/>
<path d="M569.2,69A7,7 0 0 0 576.2,62M635.5,62A7,7 0 0 0 642.5,69M642.5,107A7,7 0 0 0 635.5,114M576.2,114A7,7 0 0 0 569.2,107"/>
<path d="M591.8,114h10.9v7h-10.9zM591.8,121h10.9v5.6h-10.9zM608.5,114h11.1v7h-11.1zM608.5,121h11.1v5.6h-11.1z"/>
<path d="M581.6,114V130C581.6,150 572,158 552,158M585,114V130C585,153 575,161.2 552,161.2"/>
<path d="M610.5,126.6V154C610.5,176 622,189.8 641,189.8M616.6,126.6V154C616.6,172 626,184.2 641,184.2" stroke-dasharray="36 3 6 3 100" stroke-width="1.4"/>
</g>
<path d="M602.4,74H608.4L604,86.8L611.6,85.3L607.2,99.8L609.3,100.2L605.9,104.7L603.3,99.3L605.5,99.6L608.8,89.6L597.3,92.6Z" fill="#141414"/>

</svg>
</body></html>
